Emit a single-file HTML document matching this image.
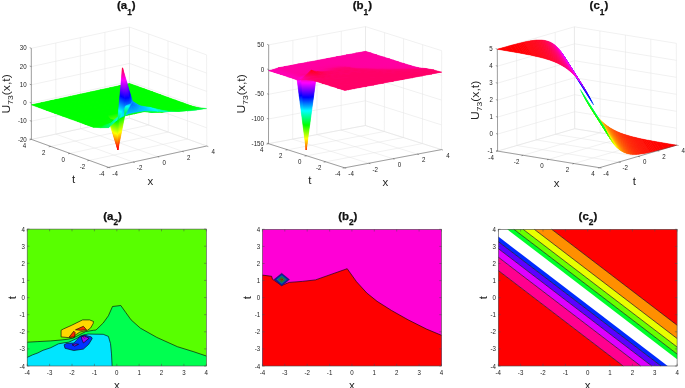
<!DOCTYPE html><html><head><meta charset="utf-8"><style>html,body{margin:0;padding:0;background:#fff;overflow:hidden}svg{display:block;will-change:transform}</style></head><body><svg width="685" height="388" viewBox="0 0 685 388" font-family="Liberation Sans, sans-serif"><rect width="685" height="388" fill="#fff"/><line x1="108.6" y1="167.4" x2="31.4" y2="139.4" stroke="#e3e3e3" stroke-width="0.5"/><line x1="108.6" y1="167.4" x2="206.8" y2="146" stroke="#e3e3e3" stroke-width="0.5"/><line x1="133.1" y1="162" x2="55.9" y2="134.1" stroke="#e3e3e3" stroke-width="0.5"/><line x1="89.3" y1="160.4" x2="187.5" y2="139" stroke="#e3e3e3" stroke-width="0.5"/><line x1="157.7" y1="156.7" x2="80.5" y2="128.7" stroke="#e3e3e3" stroke-width="0.5"/><line x1="70" y1="153.4" x2="168.2" y2="132" stroke="#e3e3e3" stroke-width="0.5"/><line x1="182.2" y1="151.3" x2="105" y2="123.4" stroke="#e3e3e3" stroke-width="0.5"/><line x1="50.7" y1="146.4" x2="148.8" y2="125" stroke="#e3e3e3" stroke-width="0.5"/><line x1="206.8" y1="146" x2="129.5" y2="118.1" stroke="#e3e3e3" stroke-width="0.5"/><line x1="31.4" y1="139.4" x2="129.5" y2="118.1" stroke="#e3e3e3" stroke-width="0.5"/><line x1="31.4" y1="139.4" x2="129.5" y2="118.1" stroke="#e3e3e3" stroke-width="0.5"/><line x1="31.4" y1="121.2" x2="129.5" y2="99.8" stroke="#e3e3e3" stroke-width="0.5"/><line x1="31.3" y1="103" x2="129.5" y2="81.6" stroke="#e3e3e3" stroke-width="0.5"/><line x1="31.3" y1="84.8" x2="129.5" y2="63.4" stroke="#e3e3e3" stroke-width="0.5"/><line x1="31.3" y1="66.6" x2="129.4" y2="45.2" stroke="#e3e3e3" stroke-width="0.5"/><line x1="31.3" y1="48.3" x2="129.4" y2="27" stroke="#e3e3e3" stroke-width="0.5"/><line x1="31.4" y1="139.4" x2="31.3" y2="48.3" stroke="#e3e3e3" stroke-width="0.5"/><line x1="55.9" y1="134.1" x2="55.8" y2="43" stroke="#e3e3e3" stroke-width="0.5"/><line x1="80.5" y1="128.7" x2="80.3" y2="37.7" stroke="#e3e3e3" stroke-width="0.5"/><line x1="105" y1="123.4" x2="104.9" y2="32.3" stroke="#e3e3e3" stroke-width="0.5"/><line x1="129.5" y1="118.1" x2="129.4" y2="27" stroke="#e3e3e3" stroke-width="0.5"/><line x1="129.5" y1="118.1" x2="206.8" y2="146" stroke="#e3e3e3" stroke-width="0.5"/><line x1="129.5" y1="99.8" x2="206.7" y2="127.8" stroke="#e3e3e3" stroke-width="0.5"/><line x1="129.5" y1="81.6" x2="206.7" y2="109.6" stroke="#e3e3e3" stroke-width="0.5"/><line x1="129.5" y1="63.4" x2="206.7" y2="91.4" stroke="#e3e3e3" stroke-width="0.5"/><line x1="129.4" y1="45.2" x2="206.7" y2="73.1" stroke="#e3e3e3" stroke-width="0.5"/><line x1="129.4" y1="27" x2="206.6" y2="54.9" stroke="#e3e3e3" stroke-width="0.5"/><line x1="129.5" y1="118.1" x2="129.4" y2="27" stroke="#e3e3e3" stroke-width="0.5"/><line x1="148.8" y1="125" x2="148.7" y2="34" stroke="#e3e3e3" stroke-width="0.5"/><line x1="168.2" y1="132" x2="168" y2="40.9" stroke="#e3e3e3" stroke-width="0.5"/><line x1="187.5" y1="139" x2="187.3" y2="47.9" stroke="#e3e3e3" stroke-width="0.5"/><line x1="206.8" y1="146" x2="206.6" y2="54.9" stroke="#e3e3e3" stroke-width="0.5"/><line x1="344.6" y1="167.8" x2="268.5" y2="143.7" stroke="#e3e3e3" stroke-width="0.5"/><line x1="344.6" y1="167.8" x2="441.5" y2="149.6" stroke="#e3e3e3" stroke-width="0.5"/><line x1="368.8" y1="163.3" x2="292.7" y2="139.2" stroke="#e3e3e3" stroke-width="0.5"/><line x1="325.6" y1="161.8" x2="422.4" y2="143.6" stroke="#e3e3e3" stroke-width="0.5"/><line x1="393" y1="158.7" x2="316.9" y2="134.6" stroke="#e3e3e3" stroke-width="0.5"/><line x1="306.6" y1="155.8" x2="403.4" y2="137.5" stroke="#e3e3e3" stroke-width="0.5"/><line x1="417.3" y1="154.1" x2="341.1" y2="130.1" stroke="#e3e3e3" stroke-width="0.5"/><line x1="287.5" y1="149.8" x2="384.3" y2="131.5" stroke="#e3e3e3" stroke-width="0.5"/><line x1="441.5" y1="149.6" x2="365.3" y2="125.5" stroke="#e3e3e3" stroke-width="0.5"/><line x1="268.5" y1="143.7" x2="365.3" y2="125.5" stroke="#e3e3e3" stroke-width="0.5"/><line x1="268.5" y1="143.7" x2="365.3" y2="125.5" stroke="#e3e3e3" stroke-width="0.5"/><line x1="268.5" y1="119" x2="365.4" y2="100.8" stroke="#e3e3e3" stroke-width="0.5"/><line x1="268.6" y1="94.3" x2="365.4" y2="76.1" stroke="#e3e3e3" stroke-width="0.5"/><line x1="268.7" y1="69.6" x2="365.5" y2="51.3" stroke="#e3e3e3" stroke-width="0.5"/><line x1="268.7" y1="44.9" x2="365.5" y2="26.6" stroke="#e3e3e3" stroke-width="0.5"/><line x1="268.5" y1="143.7" x2="268.7" y2="44.9" stroke="#e3e3e3" stroke-width="0.5"/><line x1="292.7" y1="139.2" x2="292.9" y2="40.3" stroke="#e3e3e3" stroke-width="0.5"/><line x1="316.9" y1="134.6" x2="317.1" y2="35.7" stroke="#e3e3e3" stroke-width="0.5"/><line x1="341.1" y1="130.1" x2="341.3" y2="31.2" stroke="#e3e3e3" stroke-width="0.5"/><line x1="365.3" y1="125.5" x2="365.5" y2="26.6" stroke="#e3e3e3" stroke-width="0.5"/><line x1="365.3" y1="125.5" x2="441.5" y2="149.6" stroke="#e3e3e3" stroke-width="0.5"/><line x1="365.4" y1="100.8" x2="441.5" y2="124.9" stroke="#e3e3e3" stroke-width="0.5"/><line x1="365.4" y1="76.1" x2="441.6" y2="100.1" stroke="#e3e3e3" stroke-width="0.5"/><line x1="365.5" y1="51.3" x2="441.6" y2="75.4" stroke="#e3e3e3" stroke-width="0.5"/><line x1="365.5" y1="26.6" x2="441.7" y2="50.7" stroke="#e3e3e3" stroke-width="0.5"/><line x1="365.3" y1="125.5" x2="365.5" y2="26.6" stroke="#e3e3e3" stroke-width="0.5"/><line x1="384.3" y1="131.5" x2="384.6" y2="32.6" stroke="#e3e3e3" stroke-width="0.5"/><line x1="403.4" y1="137.5" x2="403.6" y2="38.7" stroke="#e3e3e3" stroke-width="0.5"/><line x1="422.4" y1="143.6" x2="422.7" y2="44.7" stroke="#e3e3e3" stroke-width="0.5"/><line x1="441.5" y1="149.6" x2="441.7" y2="50.7" stroke="#e3e3e3" stroke-width="0.5"/><line x1="497.6" y1="151.1" x2="574.7" y2="128.7" stroke="#e3e3e3" stroke-width="0.5"/><line x1="497.6" y1="151.1" x2="599.5" y2="167.7" stroke="#e3e3e3" stroke-width="0.5"/><line x1="523.1" y1="155.3" x2="600.2" y2="132.8" stroke="#e3e3e3" stroke-width="0.5"/><line x1="516.9" y1="145.5" x2="618.7" y2="162.1" stroke="#e3e3e3" stroke-width="0.5"/><line x1="548.5" y1="159.4" x2="625.6" y2="136.9" stroke="#e3e3e3" stroke-width="0.5"/><line x1="536.1" y1="139.9" x2="638" y2="156.4" stroke="#e3e3e3" stroke-width="0.5"/><line x1="574" y1="163.5" x2="651.1" y2="141.1" stroke="#e3e3e3" stroke-width="0.5"/><line x1="555.4" y1="134.3" x2="657.3" y2="150.8" stroke="#e3e3e3" stroke-width="0.5"/><line x1="599.5" y1="167.7" x2="676.6" y2="145.2" stroke="#e3e3e3" stroke-width="0.5"/><line x1="574.7" y1="128.7" x2="676.6" y2="145.2" stroke="#e3e3e3" stroke-width="0.5"/><line x1="497.6" y1="151.1" x2="574.7" y2="128.7" stroke="#e3e3e3" stroke-width="0.5"/><line x1="497.6" y1="134.1" x2="574.7" y2="111.7" stroke="#e3e3e3" stroke-width="0.5"/><line x1="497.5" y1="117.1" x2="574.6" y2="94.7" stroke="#e3e3e3" stroke-width="0.5"/><line x1="497.5" y1="100.2" x2="574.6" y2="77.7" stroke="#e3e3e3" stroke-width="0.5"/><line x1="497.4" y1="83.2" x2="574.5" y2="60.7" stroke="#e3e3e3" stroke-width="0.5"/><line x1="497.4" y1="66.2" x2="574.5" y2="43.8" stroke="#e3e3e3" stroke-width="0.5"/><line x1="497.3" y1="49.2" x2="574.4" y2="26.8" stroke="#e3e3e3" stroke-width="0.5"/><line x1="497.6" y1="151.1" x2="497.3" y2="49.2" stroke="#e3e3e3" stroke-width="0.5"/><line x1="516.9" y1="145.5" x2="516.6" y2="43.6" stroke="#e3e3e3" stroke-width="0.5"/><line x1="536.1" y1="139.9" x2="535.9" y2="38" stroke="#e3e3e3" stroke-width="0.5"/><line x1="555.4" y1="134.3" x2="555.2" y2="32.4" stroke="#e3e3e3" stroke-width="0.5"/><line x1="574.7" y1="128.7" x2="574.4" y2="26.8" stroke="#e3e3e3" stroke-width="0.5"/><line x1="574.7" y1="128.7" x2="676.6" y2="145.2" stroke="#e3e3e3" stroke-width="0.5"/><line x1="574.7" y1="111.7" x2="676.5" y2="128.2" stroke="#e3e3e3" stroke-width="0.5"/><line x1="574.6" y1="94.7" x2="676.5" y2="111.3" stroke="#e3e3e3" stroke-width="0.5"/><line x1="574.6" y1="77.7" x2="676.4" y2="94.3" stroke="#e3e3e3" stroke-width="0.5"/><line x1="574.5" y1="60.7" x2="676.4" y2="77.3" stroke="#e3e3e3" stroke-width="0.5"/><line x1="574.5" y1="43.8" x2="676.3" y2="60.3" stroke="#e3e3e3" stroke-width="0.5"/><line x1="574.4" y1="26.8" x2="676.3" y2="43.3" stroke="#e3e3e3" stroke-width="0.5"/><line x1="574.7" y1="128.7" x2="574.4" y2="26.8" stroke="#e3e3e3" stroke-width="0.5"/><line x1="600.2" y1="132.8" x2="599.9" y2="30.9" stroke="#e3e3e3" stroke-width="0.5"/><line x1="625.6" y1="136.9" x2="625.4" y2="35" stroke="#e3e3e3" stroke-width="0.5"/><line x1="651.1" y1="141.1" x2="650.8" y2="39.2" stroke="#e3e3e3" stroke-width="0.5"/><line x1="676.6" y1="145.2" x2="676.3" y2="43.3" stroke="#e3e3e3" stroke-width="0.5"/><path fill="#00ff00" d="M108.6 127.7L118.4 118.8L128.2 113.9L133.1 112.8L138 111.8L147.8 110.6L157.6 111.1L167.4 111.7L177.3 111.8L187.1 111.1L196.9 109.9L206.7 108.5L199 107.7L191.3 105.8L183.5 103L175.8 100.2L168.1 97.4L160.4 94.6L152.7 91.8L144.9 89L137.2 86.2L129.5 83.4L119.7 85.6L109.9 87.7L100.1 89.9L90.2 92L80.4 94.1L70.6 96.3L60.8 98.4L55.9 99.5L51 100.5L41.2 102.7L31.4 104.8L39.1 107.6L46.8 110.4L54.5 113.2L62.2 116L70 118.8L77.7 121.6L85.4 124.4L93.1 127.2L100.8 127.8z"/><defs><linearGradient id="ga0" gradientUnits="userSpaceOnUse" x1="117.86" y1="149.91" x2="110.16" y2="114.51"><stop offset="0" stop-color="#ff0000"/><stop offset="0.06" stop-color="#ff0000"/><stop offset="0.55" stop-color="#ffff00"/><stop offset="0.56" stop-color="#feff00"/><stop offset="1" stop-color="#01ff00"/></linearGradient><linearGradient id="ga1" gradientUnits="userSpaceOnUse" x1="117.86" y1="149.91" x2="129.56" y2="117.6"><stop offset="0" stop-color="#ff0000"/><stop offset="0.06" stop-color="#ff0000"/><stop offset="0.55" stop-color="#ffff00"/><stop offset="0.56" stop-color="#feff00"/><stop offset="1" stop-color="#01ff00"/></linearGradient><linearGradient id="ga2" gradientUnits="userSpaceOnUse" x1="100.42" y1="125.97" x2="109.94" y2="119.03"><stop offset="0" stop-color="#ff0000"/><stop offset="0.06" stop-color="#ff0000"/><stop offset="0.55" stop-color="#ffff00"/><stop offset="0.56" stop-color="#feff00"/><stop offset="1" stop-color="#01ff00"/></linearGradient><linearGradient id="ga3" gradientUnits="userSpaceOnUse" x1="108.72" y1="146.69" x2="117.66" y2="121.28"><stop offset="0" stop-color="#ff0000"/><stop offset="0.05" stop-color="#ff0000"/><stop offset="0.55" stop-color="#ffff00"/><stop offset="0.55" stop-color="#feff00"/><stop offset="0.98" stop-color="#01ff00"/><stop offset="0.98" stop-color="#00ff00"/><stop offset="1" stop-color="#00ff0c"/></linearGradient><linearGradient id="ga4" gradientUnits="userSpaceOnUse" x1="188.39" y1="106.43" x2="189.17" y2="110.01"><stop offset="0" stop-color="#01ff00"/><stop offset="0.03" stop-color="#00ff00"/><stop offset="1" stop-color="#00ff11"/></linearGradient><linearGradient id="ga5" gradientUnits="userSpaceOnUse" x1="188.13" y1="106.82" x2="189.43" y2="110.8"><stop offset="0" stop-color="#01ff00"/><stop offset="0.02" stop-color="#00ff00"/><stop offset="1" stop-color="#00ff15"/></linearGradient><linearGradient id="ga6" gradientUnits="userSpaceOnUse" x1="178.73" y1="108.53" x2="179.36" y2="111.42"><stop offset="0" stop-color="#01ff00"/><stop offset="0.01" stop-color="#00ff00"/><stop offset="1" stop-color="#00ff22"/></linearGradient><linearGradient id="ga7" gradientUnits="userSpaceOnUse" x1="179.49" y1="107.87" x2="179.36" y2="111.42"><stop offset="0" stop-color="#01ff00"/><stop offset="0.01" stop-color="#00ff00"/><stop offset="1" stop-color="#00ff22"/></linearGradient><linearGradient id="ga8" gradientUnits="userSpaceOnUse" x1="151.45" y1="110" x2="152.01" y2="112.53"><stop offset="0" stop-color="#01ff00"/><stop offset="0.01" stop-color="#00ff00"/><stop offset="1" stop-color="#00ff2a"/></linearGradient><linearGradient id="ga9" gradientUnits="userSpaceOnUse" x1="153.24" y1="109.11" x2="152.01" y2="112.53"><stop offset="0" stop-color="#01ff00"/><stop offset="0.01" stop-color="#00ff00"/><stop offset="1" stop-color="#00ff2a"/></linearGradient><linearGradient id="ga10" gradientUnits="userSpaceOnUse" x1="169.37" y1="110.57" x2="169.54" y2="111.37"><stop offset="0" stop-color="#01ff00"/><stop offset="0.01" stop-color="#00ff00"/><stop offset="1" stop-color="#00ff55"/></linearGradient><linearGradient id="ga11" gradientUnits="userSpaceOnUse" x1="196.47" y1="108.2" x2="196.89" y2="109.89"><stop offset="0" stop-color="#00ff11"/><stop offset="1" stop-color="#00ff55"/></linearGradient><linearGradient id="ga12" gradientUnits="userSpaceOnUse" x1="111.93" y1="118.6" x2="112.75" y2="122.35"><stop offset="0" stop-color="#01ff00"/><stop offset="0.04" stop-color="#00ff00"/><stop offset="1" stop-color="#00ff0c"/></linearGradient><linearGradient id="ga13" gradientUnits="userSpaceOnUse" x1="169.68" y1="109.89" x2="169.54" y2="111.37"><stop offset="0" stop-color="#01ff00"/><stop offset="0.01" stop-color="#00ff00"/><stop offset="1" stop-color="#00ff55"/></linearGradient><linearGradient id="ga14" gradientUnits="userSpaceOnUse" x1="111.93" y1="118.6" x2="112.75" y2="122.35"><stop offset="0" stop-color="#01ff00"/><stop offset="0.04" stop-color="#00ff00"/><stop offset="1" stop-color="#00ff0c"/></linearGradient><linearGradient id="ga15" gradientUnits="userSpaceOnUse" x1="102.94" y1="125.03" x2="110.29" y2="128.15"><stop offset="0" stop-color="#01ff00"/><stop offset="0.04" stop-color="#00ff00"/><stop offset="1" stop-color="#00ff0c"/></linearGradient><linearGradient id="ga16" gradientUnits="userSpaceOnUse" x1="196.71" y1="107.89" x2="196.89" y2="109.89"><stop offset="0" stop-color="#00ff15"/><stop offset="1" stop-color="#00ff55"/></linearGradient><linearGradient id="ga17" gradientUnits="userSpaceOnUse" x1="186.97" y1="110.29" x2="187.07" y2="111.11"><stop offset="0" stop-color="#00ff11"/><stop offset="1" stop-color="#00ff6a"/></linearGradient><linearGradient id="ga18" gradientUnits="userSpaceOnUse" x1="142.58" y1="111.93" x2="142.18" y2="110.11"><stop offset="0" stop-color="#01ff00"/><stop offset="0" stop-color="#00ff00"/><stop offset="1" stop-color="#00ff95"/></linearGradient><linearGradient id="ga19" gradientUnits="userSpaceOnUse" x1="142.01" y1="111.18" x2="142.18" y2="110.11"><stop offset="0" stop-color="#01ff00"/><stop offset="0" stop-color="#00ff00"/><stop offset="1" stop-color="#00ff95"/></linearGradient><linearGradient id="ga20" gradientUnits="userSpaceOnUse" x1="186.98" y1="110.23" x2="187.07" y2="111.11"><stop offset="0" stop-color="#00ff11"/><stop offset="1" stop-color="#00ff6a"/></linearGradient><linearGradient id="ga21" gradientUnits="userSpaceOnUse" x1="100.36" y1="125.59" x2="100.84" y2="127.78"><stop offset="0" stop-color="#01ff00"/><stop offset="0.01" stop-color="#00ff00"/><stop offset="1" stop-color="#00ff33"/></linearGradient><linearGradient id="ga22" gradientUnits="userSpaceOnUse" x1="159.97" y1="112.4" x2="159.72" y2="109.86"><stop offset="0" stop-color="#01ff00"/><stop offset="0" stop-color="#00ff00"/><stop offset="1" stop-color="#00ffaa"/></linearGradient><linearGradient id="ga23" gradientUnits="userSpaceOnUse" x1="110.55" y1="122.92" x2="110.65" y2="123.28"><stop offset="0" stop-color="#01ff00"/><stop offset="0" stop-color="#00ff00"/><stop offset="1" stop-color="#00ff6a"/></linearGradient><linearGradient id="ga24" gradientUnits="userSpaceOnUse" x1="159.63" y1="112.13" x2="159.72" y2="109.86"><stop offset="0" stop-color="#01ff00"/><stop offset="0" stop-color="#00ff00"/><stop offset="1" stop-color="#00ffaa"/></linearGradient><linearGradient id="ga25" gradientUnits="userSpaceOnUse" x1="177.27" y1="111.36" x2="177.26" y2="111.79"><stop offset="0" stop-color="#00ff22"/><stop offset="1" stop-color="#00ff8c"/></linearGradient><linearGradient id="ga26" gradientUnits="userSpaceOnUse" x1="177.24" y1="111.54" x2="177.26" y2="111.79"><stop offset="0" stop-color="#00ff22"/><stop offset="1" stop-color="#00ff8c"/></linearGradient><linearGradient id="ga27" gradientUnits="userSpaceOnUse" x1="100.19" y1="126.73" x2="101.54" y2="128.91"><stop offset="0" stop-color="#01ff00"/><stop offset="0" stop-color="#00ff00"/><stop offset="1" stop-color="#00ff6a"/></linearGradient><linearGradient id="ga28" gradientUnits="userSpaceOnUse" x1="121.68" y1="120.41" x2="120.46" y2="114.76"><stop offset="0" stop-color="#00ff0c"/><stop offset="1" stop-color="#00ffff"/></linearGradient><linearGradient id="ga29" gradientUnits="userSpaceOnUse" x1="135.02" y1="113.57" x2="132.35" y2="101.32"><stop offset="0" stop-color="#01ff00"/><stop offset="0" stop-color="#00ff00"/><stop offset="0.63" stop-color="#00ffff"/><stop offset="1" stop-color="#008fff"/></linearGradient><linearGradient id="ga30" gradientUnits="userSpaceOnUse" x1="167.45" y1="111.31" x2="167.44" y2="111.74"><stop offset="0" stop-color="#00ff55"/><stop offset="1" stop-color="#00ffbf"/></linearGradient><linearGradient id="ga31" gradientUnits="userSpaceOnUse" x1="103.93" y1="123.94" x2="108.56" y2="127.66"><stop offset="0" stop-color="#00ff33"/><stop offset="1" stop-color="#00ff77"/></linearGradient><linearGradient id="ga32" gradientUnits="userSpaceOnUse" x1="167.62" y1="110.94" x2="167.44" y2="111.74"><stop offset="0" stop-color="#00ff55"/><stop offset="1" stop-color="#00ffbf"/></linearGradient><linearGradient id="ga33" gradientUnits="userSpaceOnUse" x1="149.84" y1="112.5" x2="149.9" y2="107.44"><stop offset="0" stop-color="#00ff2a"/><stop offset="0.91" stop-color="#00ffff"/><stop offset="1" stop-color="#00efff"/></linearGradient><linearGradient id="ga34" gradientUnits="userSpaceOnUse" x1="110.97" y1="123.7" x2="110.14" y2="122.6"><stop offset="0" stop-color="#00ff0c"/><stop offset="1" stop-color="#00ffff"/></linearGradient><linearGradient id="ga35" gradientUnits="userSpaceOnUse" x1="155.56" y1="129.75" x2="122.49" y2="67.93"><stop offset="0" stop-color="#ff0000"/><stop offset="0.02" stop-color="#ff0000"/><stop offset="0.21" stop-color="#ffff00"/><stop offset="0.21" stop-color="#feff00"/><stop offset="0.38" stop-color="#01ff00"/><stop offset="0.38" stop-color="#00ff00"/><stop offset="0.51" stop-color="#00ffff"/><stop offset="0.68" stop-color="#0000ff"/><stop offset="0.68" stop-color="#0100ff"/><stop offset="0.83" stop-color="#cc00ff"/><stop offset="0.87" stop-color="#ff00ff"/><stop offset="1" stop-color="#ff003d"/></linearGradient><linearGradient id="ga36" gradientUnits="userSpaceOnUse" x1="149.84" y1="112.5" x2="149.9" y2="107.44"><stop offset="0" stop-color="#00ff2a"/><stop offset="0.91" stop-color="#00ffff"/><stop offset="1" stop-color="#00efff"/></linearGradient><linearGradient id="ga37" gradientUnits="userSpaceOnUse" x1="130.54" y1="129.15" x2="97.45" y2="108.95"><stop offset="0" stop-color="#ff0000"/><stop offset="0.02" stop-color="#ff0000"/><stop offset="0.21" stop-color="#ffff00"/><stop offset="0.21" stop-color="#feff00"/><stop offset="0.38" stop-color="#01ff00"/><stop offset="0.38" stop-color="#00ff00"/><stop offset="0.51" stop-color="#00ffff"/><stop offset="0.68" stop-color="#0000ff"/><stop offset="0.68" stop-color="#0100ff"/><stop offset="0.83" stop-color="#cc00ff"/><stop offset="0.87" stop-color="#ff00ff"/><stop offset="1" stop-color="#ff003d"/></linearGradient><linearGradient id="ga38" gradientUnits="userSpaceOnUse" x1="130.98" y1="113.29" x2="132.35" y2="101.32"><stop offset="0" stop-color="#01ff00"/><stop offset="0" stop-color="#00ff00"/><stop offset="0.63" stop-color="#00ffff"/><stop offset="1" stop-color="#008fff"/></linearGradient><linearGradient id="ga39" gradientUnits="userSpaceOnUse" x1="157.93" y1="109.52" x2="157.62" y2="111.15"><stop offset="0" stop-color="#00ffaa"/><stop offset="1" stop-color="#00ffff"/></linearGradient><linearGradient id="ga40" gradientUnits="userSpaceOnUse" x1="108.26" y1="127.49" x2="112.18" y2="129.71"><stop offset="0" stop-color="#00ff6a"/><stop offset="0.88" stop-color="#00ffff"/><stop offset="1" stop-color="#00efff"/></linearGradient><linearGradient id="ga41" gradientUnits="userSpaceOnUse" x1="158.67" y1="109.27" x2="157.36" y2="111.62"><stop offset="0" stop-color="#00ffaa"/><stop offset="0.8" stop-color="#00ffff"/><stop offset="1" stop-color="#00efff"/></linearGradient><linearGradient id="ga42" gradientUnits="userSpaceOnUse" x1="115.1" y1="116.61" x2="118.36" y2="118.78"><stop offset="0" stop-color="#00ff6a"/><stop offset="0.88" stop-color="#00ffff"/><stop offset="1" stop-color="#00efff"/></linearGradient><linearGradient id="ga43" gradientUnits="userSpaceOnUse" x1="121.48" y1="115.43" x2="119.65" y2="114.24"><stop offset="0" stop-color="#00ff0c"/><stop offset="0.56" stop-color="#00ffff"/><stop offset="1" stop-color="#006fff"/></linearGradient><linearGradient id="ga44" gradientUnits="userSpaceOnUse" x1="140.16" y1="110.15" x2="140.08" y2="105.93"><stop offset="0" stop-color="#00ff95"/><stop offset="0.5" stop-color="#00ffff"/><stop offset="1" stop-color="#00afff"/></linearGradient><linearGradient id="ga45" gradientUnits="userSpaceOnUse" x1="151.27" y1="106.15" x2="147.8" y2="110.55"><stop offset="0" stop-color="#00ffff"/><stop offset="1" stop-color="#00cfff"/></linearGradient><linearGradient id="ga46" gradientUnits="userSpaceOnUse" x1="138.82" y1="108.37" x2="140.33" y2="105.45"><stop offset="0" stop-color="#00ff95"/><stop offset="0.42" stop-color="#00ffff"/><stop offset="1" stop-color="#008fff"/></linearGradient><linearGradient id="ga47" gradientUnits="userSpaceOnUse" x1="117.45" y1="117.92" x2="121.08" y2="121.37"><stop offset="0" stop-color="#00ffff"/><stop offset="1" stop-color="#00bfff"/></linearGradient><linearGradient id="ga48" gradientUnits="userSpaceOnUse" x1="150.65" y1="108.48" x2="144.95" y2="112.63"><stop offset="0" stop-color="#00efff"/><stop offset="1" stop-color="#00afff"/></linearGradient><linearGradient id="ga49" gradientUnits="userSpaceOnUse" x1="140.01" y1="115.18" x2="135.97" y2="108.38"><stop offset="0" stop-color="#00cfff"/><stop offset="1" stop-color="#00afff"/></linearGradient><linearGradient id="ga50" gradientUnits="userSpaceOnUse" x1="125.81" y1="117.92" x2="131.13" y2="108.91"><stop offset="0" stop-color="#00ffff"/><stop offset="1" stop-color="#006fff"/></linearGradient><linearGradient id="ga51" gradientUnits="userSpaceOnUse" x1="128.17" y1="113.91" x2="126.29" y2="105.29"><stop offset="0" stop-color="#00bfff"/><stop offset="1" stop-color="#006fff"/></linearGradient><linearGradient id="ga52" gradientUnits="userSpaceOnUse" x1="137.99" y1="111.78" x2="129.1" y2="105.05"><stop offset="0" stop-color="#00bfff"/><stop offset="1" stop-color="#005fff"/></linearGradient><linearGradient id="ga53" gradientUnits="userSpaceOnUse" x1="133.08" y1="112.85" x2="131.01" y2="103.35"><stop offset="0" stop-color="#00bfff"/><stop offset="1" stop-color="#005fff"/></linearGradient><linearGradient id="ga54" gradientUnits="userSpaceOnUse" x1="133.77" y1="99.87" x2="130.26" y2="103.52"><stop offset="0" stop-color="#00afff"/><stop offset="1" stop-color="#005fff"/></linearGradient><linearGradient id="ga55" gradientUnits="userSpaceOnUse" x1="133.08" y1="112.85" x2="132.33" y2="103.35"><stop offset="0" stop-color="#00bfff"/><stop offset="1" stop-color="#005fff"/></linearGradient><linearGradient id="ga56" gradientUnits="userSpaceOnUse" x1="115.94" y1="114.61" x2="122.49" y2="67.93"><stop offset="0" stop-color="#01ff00"/><stop offset="0" stop-color="#00ff00"/><stop offset="0.21" stop-color="#00ffff"/><stop offset="0.48" stop-color="#0000ff"/><stop offset="0.48" stop-color="#0100ff"/><stop offset="0.72" stop-color="#cc00ff"/><stop offset="0.78" stop-color="#ff00ff"/><stop offset="1" stop-color="#ff003d"/></linearGradient><linearGradient id="ga57" gradientUnits="userSpaceOnUse" x1="117.12" y1="121" x2="140.28" y2="77.38"><stop offset="0" stop-color="#00ff0c"/><stop offset="0.2" stop-color="#00ffff"/><stop offset="0.48" stop-color="#0000ff"/><stop offset="0.48" stop-color="#0100ff"/><stop offset="0.72" stop-color="#cc00ff"/><stop offset="0.78" stop-color="#ff00ff"/><stop offset="1" stop-color="#ff003d"/></linearGradient><linearGradient id="ga58" gradientUnits="userSpaceOnUse" x1="131.63" y1="103.9" x2="113.8" y2="98.9"><stop offset="0" stop-color="#008fff"/><stop offset="0.23" stop-color="#0000ff"/><stop offset="0.23" stop-color="#0100ff"/><stop offset="0.59" stop-color="#cc00ff"/><stop offset="0.68" stop-color="#ff00ff"/><stop offset="1" stop-color="#ff003d"/></linearGradient><linearGradient id="ga59" gradientUnits="userSpaceOnUse" x1="125.35" y1="105.5" x2="118.24" y2="68.75"><stop offset="0" stop-color="#006fff"/><stop offset="0.19" stop-color="#0000ff"/><stop offset="0.19" stop-color="#0100ff"/><stop offset="0.57" stop-color="#cc00ff"/><stop offset="0.66" stop-color="#ff00ff"/><stop offset="1" stop-color="#ff003d"/></linearGradient></defs><path fill="url(#ga0)" stroke="url(#ga0)" stroke-width="0.4" stroke-linejoin="round" d="M117.86 149.91L116.94 113.04L107.12 115.17z"/><path fill="url(#ga1)" stroke="url(#ga1)" stroke-width="0.4" stroke-linejoin="round" d="M117.86 149.91L124.66 115.83L116.94 113.04z"/><path fill="url(#ga2)" stroke="url(#ga2)" stroke-width="0.4" stroke-linejoin="round" d="M109.94 119.03L117.86 149.91L107.12 115.17z"/><path fill="url(#ga3)" stroke="url(#ga3)" stroke-width="0.4" stroke-linejoin="round" d="M117.66 121.28L117.86 149.91L109.94 119.03z"/><path fill="#01ff00" stroke="#01ff00" stroke-width="0.5" stroke-linejoin="round" d="M127.4 88.38L129.5 83.45L119.68 85.58zM127.4 88.38L137.22 86.24L129.5 83.45zM117.59 90.51L119.68 85.58L109.87 87.72zM117.59 90.51L127.4 88.38L119.68 85.58zM135.12 91.17L137.22 86.24L127.4 88.38zM135.12 91.17L144.94 89.04L137.22 86.24zM107.77 92.65L109.87 87.72L100.05 89.86zM107.77 92.65L117.59 90.51L109.87 87.72zM125.31 93.31L127.4 88.38L117.59 90.51zM125.31 93.31L135.12 91.17L127.4 88.38zM142.84 93.97L144.94 89.04L135.12 91.17zM142.84 93.97L152.66 91.83L144.94 89.04zM97.96 94.79L100.05 89.86L90.24 91.99zM97.96 94.79L107.77 92.65L100.05 89.86zM115.49 95.45L117.59 90.51L107.77 92.65zM115.49 95.45L125.31 93.31L117.59 90.51zM133.03 96.1L135.12 91.17L125.31 93.31zM133.03 96.1L142.84 93.97L135.12 91.17zM150.57 96.76L152.66 91.83L142.84 93.97zM150.57 96.76L160.38 94.63L152.66 91.83zM88.14 96.92L90.24 91.99L80.42 94.13zM88.14 96.92L97.96 94.79L90.24 91.99zM105.68 97.58L107.77 92.65L97.96 94.79zM105.68 97.58L115.49 95.45L107.77 92.65zM123.22 98.24L125.31 93.31L115.49 95.45zM123.22 98.24L133.03 96.1L125.31 93.31zM140.75 98.9L142.84 93.97L133.03 96.1zM140.75 98.9L150.57 96.76L142.84 93.97zM78.33 99.06L80.42 94.13L70.61 96.27zM158.29 99.56L160.38 94.63L150.57 96.76zM78.33 99.06L88.14 96.92L80.42 94.13zM158.29 99.56L168.1 97.42L160.38 94.63zM95.87 99.72L97.96 94.79L88.14 96.92zM95.87 99.72L105.68 97.58L97.96 94.79zM113.4 100.38L115.49 95.45L105.68 97.58zM113.4 100.38L123.22 98.24L115.49 95.45zM130.94 101.04L133.03 96.1L123.22 98.24zM130.94 101.04L140.75 98.9L133.03 96.1zM68.52 101.2L70.61 96.27L60.79 98.4zM148.47 101.69L150.57 96.76L140.75 98.9zM68.52 101.2L78.33 99.06L70.61 96.27zM148.47 101.69L158.29 99.56L150.57 96.76zM86.05 101.86L88.14 96.92L78.33 99.06zM166.01 102.35L168.1 97.42L158.29 99.56zM86.05 101.86L95.87 99.72L88.14 96.92zM166.01 102.35L175.82 100.21L168.1 97.42zM103.59 102.51L105.68 97.58L95.87 99.72zM103.59 102.51L113.4 100.38L105.68 97.58zM63.61 102.27L60.79 98.4L55.89 99.47zM121.12 103.17L123.22 98.24L113.4 100.38zM121.12 103.17L130.94 101.04L123.22 98.24zM63.61 102.27L68.52 101.2L60.79 98.4zM138.66 103.83L140.75 98.9L130.94 101.04zM58.7 103.33L55.89 99.47L50.98 100.54zM138.66 103.83L148.47 101.69L140.75 98.9zM76.24 103.99L78.33 99.06L68.52 101.2zM156.19 104.49L158.29 99.56L148.47 101.69zM76.24 103.99L86.05 101.86L78.33 99.06zM58.7 103.33L63.61 102.27L55.89 99.47zM156.19 104.49L166.01 102.35L158.29 99.56zM93.77 104.65L95.87 99.72L86.05 101.86zM173.73 105.15L175.82 100.21L166.01 102.35zM93.77 104.65L103.59 102.51L95.87 99.72zM173.73 105.15L183.54 103.01L175.82 100.21zM111.31 105.31L113.4 100.38L103.59 102.51zM111.31 105.31L121.12 103.17L113.4 100.38zM71.33 105.06L68.52 101.2L63.61 102.27zM48.89 105.47L50.98 100.54L41.16 102.68zM128.84 105.97L130.94 101.04L121.12 103.17zM48.89 105.47L58.7 103.33L50.98 100.54zM128.84 105.97L138.66 103.83L130.94 101.04zM71.33 105.06L76.24 103.99L68.52 101.2zM146.38 106.62L148.47 101.69L138.66 103.83zM66.42 106.13L63.61 102.27L58.7 103.33zM146.38 106.62L156.19 104.49L148.47 101.69zM83.96 106.79L86.05 101.86L76.24 103.99zM163.92 107.28L166.01 102.35L156.19 104.49zM83.96 106.79L93.77 104.65L86.05 101.86zM66.42 106.13L71.33 105.06L63.61 102.27zM163.92 107.28L173.73 105.15L166.01 102.35zM101.49 107.45L103.59 102.51L93.77 104.65zM181.45 107.94L183.54 103.01L173.73 105.15zM101.49 107.45L111.31 105.31L103.59 102.51zM181.45 107.94L191.27 105.8L183.54 103.01zM39.07 107.61L41.16 102.68L31.35 104.81zM119.03 108.1L121.12 103.17L111.31 105.31zM39.07 107.61L48.89 105.47L41.16 102.68zM119.03 108.1L128.84 105.97L121.12 103.17zM79.05 107.86L76.24 103.99L71.33 105.06zM56.61 108.27L58.7 103.33L48.89 105.47zM136.57 108.76L138.66 103.83L128.84 105.97zM56.61 108.27L66.42 106.13L58.7 103.33zM136.57 108.76L146.38 106.62L138.66 103.83zM79.05 107.86L83.96 106.79L76.24 103.99zM154.1 109.42L156.19 104.49L146.38 106.62zM74.14 108.92L71.33 105.06L66.42 106.13zM154.1 109.42L163.92 107.28L156.19 104.49zM91.68 109.58L93.77 104.65L83.96 106.79zM171.64 110.08L173.73 105.15L163.92 107.28zM91.68 109.58L101.49 107.45L93.77 104.65zM74.14 108.92L79.05 107.86L71.33 105.06zM171.64 110.08L181.45 107.94L173.73 105.15zM109.22 110.24L111.31 105.31L101.49 107.45zM109.22 110.24L119.03 108.1L111.31 105.31zM46.79 110.4L48.89 105.47L39.07 107.61zM126.75 110.9L128.84 105.97L119.03 108.1zM46.79 110.4L56.61 108.27L48.89 105.47zM126.75 110.9L136.57 108.76L128.84 105.97zM86.77 110.65L83.96 106.79L79.05 107.86zM64.33 111.06L66.42 106.13L56.61 108.27zM144.29 111.56L146.38 106.62L136.57 108.76zM64.33 111.06L74.14 108.92L66.42 106.13zM144.29 111.56L154.1 109.42L146.38 106.62zM86.77 110.65L91.68 109.58L83.96 106.79z"/><path fill="url(#ga4)" stroke="url(#ga4)" stroke-width="0.4" stroke-linejoin="round" d="M189.17 110.01L191.27 105.8L181.45 107.94z"/><path fill="#01ff00" stroke="#01ff00" stroke-width="0.5" stroke-linejoin="round" d="M161.82 112.21L163.92 107.28L154.1 109.42zM81.86 111.72L79.05 107.86L74.14 108.92zM161.82 112.21L171.64 110.08L163.92 107.28zM99.4 112.38L101.49 107.45L91.68 109.58zM99.4 112.38L109.22 110.24L101.49 107.45zM81.86 111.72L86.77 110.65L79.05 107.86zM116.94 113.04L119.03 108.1L109.22 110.24zM116.94 113.04L126.75 110.9L119.03 108.1zM54.51 113.2L56.61 108.27L46.79 110.4zM134.47 113.69L136.57 108.76L126.75 110.9zM54.51 113.2L64.33 111.06L56.61 108.27zM134.47 113.69L144.29 111.56L136.57 108.76z"/><path fill="url(#ga5)" stroke="url(#ga5)" stroke-width="0.4" stroke-linejoin="round" d="M189.17 110.01L198.99 107.69L191.27 105.8z"/><path fill="#01ff00" stroke="#01ff00" stroke-width="0.5" stroke-linejoin="round" d="M94.49 113.45L91.68 109.58L86.77 110.65zM72.05 113.86L74.14 108.92L64.33 111.06zM72.05 113.86L81.86 111.72L74.14 108.92zM94.49 113.45L99.4 112.38L91.68 109.58zM89.59 114.51L86.77 110.65L81.86 111.72zM107.12 115.17L109.22 110.24L99.4 112.38zM107.12 115.17L116.94 113.04L109.22 110.24z"/><path fill="url(#ga6)" stroke="url(#ga6)" stroke-width="0.4" stroke-linejoin="round" d="M179.36 111.42L181.45 107.94L171.64 110.08z"/><path fill="#01ff00" stroke="#01ff00" stroke-width="0.5" stroke-linejoin="round" d="M89.59 114.51L94.49 113.45L86.77 110.65zM124.66 115.83L126.75 110.9L116.94 113.04zM124.66 115.83L134.47 113.69L126.75 110.9zM62.24 115.99L64.33 111.06L54.51 113.2zM62.24 115.99L72.05 113.86L64.33 111.06zM102.21 116.24L99.4 112.38L94.49 113.45zM79.77 116.65L81.86 111.72L72.05 113.86zM79.77 116.65L89.59 114.51L81.86 111.72z"/><path fill="url(#ga7)" stroke="url(#ga7)" stroke-width="0.4" stroke-linejoin="round" d="M179.36 111.42L189.17 110.01L181.45 107.94z"/><path fill="#01ff00" stroke="#01ff00" stroke-width="0.5" stroke-linejoin="round" d="M102.21 116.24L107.12 115.17L99.4 112.38zM97.31 117.31L94.49 113.45L89.59 114.51z"/><path fill="url(#ga8)" stroke="url(#ga8)" stroke-width="0.4" stroke-linejoin="round" d="M152.01 112.53L154.1 109.42L144.29 111.56z"/><path fill="url(#ga9)" stroke="url(#ga9)" stroke-width="0.4" stroke-linejoin="round" d="M152.01 112.53L161.82 112.21L154.1 109.42z"/><path fill="#01ff00" stroke="#01ff00" stroke-width="0.5" stroke-linejoin="round" d="M97.31 117.31L102.21 116.24L94.49 113.45zM69.96 118.79L72.05 113.86L62.24 115.99zM69.96 118.79L79.77 116.65L72.05 113.86zM109.94 119.03L107.12 115.17L102.21 116.24zM87.49 119.45L89.59 114.51L79.77 116.65zM87.49 119.45L97.31 117.31L89.59 114.51zM105.03 120.1L102.21 116.24L97.31 117.31zM105.03 120.1L109.94 119.03L102.21 116.24zM77.68 121.58L79.77 116.65L69.96 118.79z"/><path fill="url(#ga10)" stroke="url(#ga10)" stroke-width="0.4" stroke-linejoin="round" d="M169.54 111.37L171.64 110.08L161.82 112.21z"/><path fill="#01ff00" stroke="#01ff00" stroke-width="0.5" stroke-linejoin="round" d="M77.68 121.58L87.49 119.45L79.77 116.65zM95.21 122.24L97.31 117.31L87.49 119.45zM95.21 122.24L105.03 120.1L97.31 117.31z"/><path fill="url(#ga11)" stroke="url(#ga11)" stroke-width="0.4" stroke-linejoin="round" d="M196.89 109.89L198.99 107.69L189.17 110.01z"/><path fill="url(#ga12)" stroke="url(#ga12)" stroke-width="0.4" stroke-linejoin="round" d="M112.75 122.35L109.94 119.03L105.03 120.1z"/><path fill="#01ff00" stroke="#01ff00" stroke-width="0.5" stroke-linejoin="round" d="M85.4 124.38L87.49 119.45L77.68 121.58zM85.4 124.38L95.21 122.24L87.49 119.45z"/><path fill="url(#ga13)" stroke="url(#ga13)" stroke-width="0.4" stroke-linejoin="round" d="M169.54 111.37L179.36 111.42L171.64 110.08z"/><path fill="#01ff00" stroke="#01ff00" stroke-width="0.5" stroke-linejoin="round" d="M102.94 125.03L105.03 120.1L95.21 122.24z"/><path fill="url(#ga14)" stroke="url(#ga14)" stroke-width="0.4" stroke-linejoin="round" d="M112.75 122.35L117.66 121.28L109.94 119.03z"/><path fill="url(#ga15)" stroke="url(#ga15)" stroke-width="0.4" stroke-linejoin="round" d="M102.94 125.03L112.75 122.35L105.03 120.1z"/><path fill="#01ff00" stroke="#01ff00" stroke-width="0.5" stroke-linejoin="round" d="M93.12 127.17L95.21 122.24L85.4 124.38zM93.12 127.17L102.94 125.03L95.21 122.24z"/><path fill="url(#ga16)" stroke="url(#ga16)" stroke-width="0.4" stroke-linejoin="round" d="M196.89 109.89L206.7 108.48L198.99 107.69z"/><path fill="url(#ga17)" d="M187.07 111.11L189.17 110.01L179.36 111.42z"/><path fill="url(#ga18)" stroke="url(#ga18)" stroke-width="0.4" stroke-linejoin="round" d="M142.18 110.11L144.29 111.56L134.47 113.69z"/><path fill="url(#ga19)" stroke="url(#ga19)" stroke-width="0.4" stroke-linejoin="round" d="M142.18 110.11L152.01 112.53L144.29 111.56z"/><path fill="url(#ga20)" stroke="url(#ga20)" stroke-width="0.4" stroke-linejoin="round" d="M187.07 111.11L196.89 109.89L189.17 110.01z"/><path fill="url(#ga21)" stroke="url(#ga21)" stroke-width="0.4" stroke-linejoin="round" d="M100.84 127.78L102.94 125.03L93.12 127.17z"/><path fill="url(#ga22)" stroke="url(#ga22)" stroke-width="0.4" stroke-linejoin="round" d="M159.72 109.86L161.82 112.21L152.01 112.53z"/><path fill="url(#ga23)" d="M110.65 123.28L112.75 122.35L102.94 125.03z"/><path fill="url(#ga24)" stroke="url(#ga24)" stroke-width="0.4" stroke-linejoin="round" d="M159.72 109.86L169.54 111.37L161.82 112.21z"/><path fill="url(#ga25)" d="M177.26 111.79L179.36 111.42L169.54 111.37z"/><path fill="url(#ga26)" d="M177.26 111.79L187.07 111.11L179.36 111.42z"/><path fill="url(#ga27)" stroke="url(#ga27)" stroke-width="0.4" stroke-linejoin="round" d="M100.84 127.78L110.65 123.28L102.94 125.03z"/><path fill="url(#ga28)" stroke="url(#ga28)" stroke-width="0.4" stroke-linejoin="round" d="M120.46 114.76L117.66 121.28L112.75 122.35z"/><path fill="url(#ga29)" stroke="url(#ga29)" stroke-width="0.4" stroke-linejoin="round" d="M132.35 101.32L134.47 113.69L124.66 115.83z"/><path fill="url(#ga30)" d="M167.44 111.74L177.26 111.79L169.54 111.37z"/><path fill="url(#ga31)" stroke="url(#ga31)" stroke-width="0.4" stroke-linejoin="round" d="M108.56 127.66L110.65 123.28L100.84 127.78z"/><path fill="url(#ga32)" d="M167.44 111.74L169.54 111.37L159.72 109.86z"/><path fill="url(#ga33)" stroke="url(#ga33)" stroke-width="0.4" stroke-linejoin="round" d="M149.9 107.44L152.01 112.53L142.18 110.11z"/><path fill="url(#ga34)" stroke="url(#ga34)" stroke-width="0.4" stroke-linejoin="round" d="M110.65 123.28L120.46 114.76L112.75 122.35z"/><path fill="url(#ga35)" stroke="url(#ga35)" stroke-width="0.4" stroke-linejoin="round" d="M122.49 67.93L124.66 115.83L117.86 149.91z"/><path fill="url(#ga36)" stroke="url(#ga36)" stroke-width="0.4" stroke-linejoin="round" d="M149.9 107.44L159.72 109.86L152.01 112.53z"/><path fill="url(#ga37)" stroke="url(#ga37)" stroke-width="0.4" stroke-linejoin="round" d="M117.66 121.28L122.49 67.93L117.86 149.91z"/><path fill="url(#ga38)" stroke="url(#ga38)" stroke-width="0.4" stroke-linejoin="round" d="M132.35 101.32L142.18 110.11L134.47 113.69z"/><path fill="url(#ga39)" stroke="url(#ga39)" stroke-width="0.4" stroke-linejoin="round" d="M157.62 111.15L167.44 111.74L159.72 109.86z"/><path fill="url(#ga40)" stroke="url(#ga40)" stroke-width="0.4" stroke-linejoin="round" d="M108.56 127.66L118.36 118.78L110.65 123.28z"/><path fill="url(#ga41)" stroke="url(#ga41)" stroke-width="0.4" stroke-linejoin="round" d="M157.62 111.15L159.72 109.86L149.9 107.44z"/><path fill="url(#ga42)" stroke="url(#ga42)" stroke-width="0.4" stroke-linejoin="round" d="M118.36 118.78L120.46 114.76L110.65 123.28z"/><path fill="url(#ga43)" d="M120.46 114.76L125.35 105.5L117.66 121.28z"/><path fill="url(#ga44)" stroke="url(#ga44)" stroke-width="0.4" stroke-linejoin="round" d="M140.08 105.93L149.9 107.44L142.18 110.11z"/><path fill="url(#ga45)" stroke="url(#ga45)" stroke-width="0.4" stroke-linejoin="round" d="M147.8 110.55L157.62 111.15L149.9 107.44z"/><path fill="url(#ga46)" stroke="url(#ga46)" stroke-width="0.4" stroke-linejoin="round" d="M140.08 105.93L142.18 110.11L132.35 101.32z"/><path fill="url(#ga47)" stroke="url(#ga47)" stroke-width="0.4" stroke-linejoin="round" d="M118.36 118.78L128.17 113.91L120.46 114.76z"/><path fill="url(#ga48)" stroke="url(#ga48)" stroke-width="0.4" stroke-linejoin="round" d="M147.8 110.55L149.9 107.44L140.08 105.93z"/><path fill="url(#ga49)" stroke="url(#ga49)" stroke-width="0.4" stroke-linejoin="round" d="M137.99 111.78L147.8 110.55L140.08 105.93z"/><path fill="url(#ga50)" stroke="url(#ga50)" stroke-width="0.4" stroke-linejoin="round" d="M128.17 113.91L125.35 105.5L120.46 114.76z"/><path fill="url(#ga51)" stroke="url(#ga51)" stroke-width="0.4" stroke-linejoin="round" d="M128.17 113.91L133.08 112.85L125.35 105.5z"/><path fill="url(#ga52)" stroke="url(#ga52)" stroke-width="0.4" stroke-linejoin="round" d="M137.99 111.78L140.08 105.93L130.26 103.52z"/><path fill="url(#ga53)" stroke="url(#ga53)" stroke-width="0.4" stroke-linejoin="round" d="M133.08 112.85L137.99 111.78L130.26 103.52z"/><path fill="url(#ga54)" stroke="url(#ga54)" stroke-width="0.4" stroke-linejoin="round" d="M130.26 103.52L140.08 105.93L132.35 101.32z"/><path fill="url(#ga55)" stroke="url(#ga55)" stroke-width="0.4" stroke-linejoin="round" d="M133.08 112.85L130.26 103.52L125.35 105.5z"/><path fill="url(#ga56)" stroke="url(#ga56)" stroke-width="0.4" stroke-linejoin="round" d="M122.49 67.93L132.35 101.32L124.66 115.83z"/><path fill="url(#ga57)" stroke="url(#ga57)" stroke-width="0.4" stroke-linejoin="round" d="M125.35 105.5L122.49 67.93L117.66 121.28z"/><path fill="url(#ga58)" stroke="url(#ga58)" stroke-width="0.4" stroke-linejoin="round" d="M130.26 103.52L132.35 101.32L122.49 67.93z"/><path fill="url(#ga59)" stroke="url(#ga59)" stroke-width="0.4" stroke-linejoin="round" d="M125.35 105.5L130.26 103.52L122.49 67.93z"/><path fill="#ff00a1" d="M344.8 90.4L348.8 89.7L354.5 88.6L360.2 87.5L366.6 86.3L373.9 84.9L383.6 83.1L393.2 81.3L402.9 79.5L412.6 77.6L422.3 75.8L432 74L441.6 72.2L434 69.9L426.4 68.5L418.8 67.7L411.2 65.7L404.5 63.7L398.3 61.7L394 60.4L389.8 59L384.5 57.4L376.9 55L371.2 53.1L365.5 51.3L355.8 53.2L346.1 55L336.4 56.8L326.8 58.6L317.1 60.5L307.4 62.3L297.7 64.1L290.4 65.5L284 66.7L278.3 67.8L272.7 69.8L268.7 70.6L274.4 72.4L280.1 74.2L287.7 76.7L292.9 78.4L297.2 80.1L301.5 79.7L307.7 79.7L314.4 80.8L322 83.2L329.6 85.6L337.2 88z"/><defs><linearGradient id="gb0" gradientUnits="userSpaceOnUse" x1="281.24" y1="141.94" x2="301.29" y2="79.09"><stop offset="0" stop-color="#ff3800"/><stop offset="0.15" stop-color="#ffff00"/><stop offset="0.35" stop-color="#00ff00"/><stop offset="0.55" stop-color="#00ffff"/><stop offset="0.75" stop-color="#0000ff"/><stop offset="0.94" stop-color="#ff00ff"/><stop offset="1" stop-color="#ff00b6"/></linearGradient><linearGradient id="gb1" gradientUnits="userSpaceOnUse" x1="306.22" y1="149.91" x2="293.04" y2="76.43"><stop offset="0" stop-color="#ff3800"/><stop offset="0.15" stop-color="#ffff00"/><stop offset="0.34" stop-color="#00ff00"/><stop offset="0.53" stop-color="#00ffff"/><stop offset="0.73" stop-color="#0000ff"/><stop offset="0.92" stop-color="#ff00ff"/><stop offset="1" stop-color="#ff0094"/></linearGradient><linearGradient id="gb2" gradientUnits="userSpaceOnUse" x1="306.22" y1="149.91" x2="308.48" y2="74.03"><stop offset="0" stop-color="#ff3800"/><stop offset="0.15" stop-color="#ffff00"/><stop offset="0.34" stop-color="#00ff00"/><stop offset="0.53" stop-color="#00ffff"/><stop offset="0.72" stop-color="#0000ff"/><stop offset="0.91" stop-color="#ff00ff"/><stop offset="1" stop-color="#ff0085"/></linearGradient><linearGradient id="gb3" gradientUnits="userSpaceOnUse" x1="310.19" y1="149.96" x2="311.2" y2="70.23"><stop offset="0" stop-color="#ff3800"/><stop offset="0.14" stop-color="#ffff00"/><stop offset="0.31" stop-color="#00ff00"/><stop offset="0.49" stop-color="#00ffff"/><stop offset="0.66" stop-color="#0000ff"/><stop offset="0.84" stop-color="#ff00ff"/><stop offset="1" stop-color="#ff0013"/></linearGradient><linearGradient id="gb4" gradientUnits="userSpaceOnUse" x1="291.01" y1="144.5" x2="316.89" y2="71.63"><stop offset="0" stop-color="#ff3800"/><stop offset="0.14" stop-color="#ffff00"/><stop offset="0.32" stop-color="#00ff00"/><stop offset="0.5" stop-color="#00ffff"/><stop offset="0.68" stop-color="#0000ff"/><stop offset="0.86" stop-color="#ff00ff"/><stop offset="1" stop-color="#ff003f"/></linearGradient><linearGradient id="gb5" gradientUnits="userSpaceOnUse" x1="324.68" y1="146.65" x2="311.2" y2="70.23"><stop offset="0" stop-color="#ff3800"/><stop offset="0.14" stop-color="#ffff00"/><stop offset="0.31" stop-color="#00ff00"/><stop offset="0.49" stop-color="#00ffff"/><stop offset="0.66" stop-color="#0000ff"/><stop offset="0.84" stop-color="#ff00ff"/><stop offset="1" stop-color="#ff0013"/></linearGradient><linearGradient id="gb6" gradientUnits="userSpaceOnUse" x1="297.21" y1="80.1" x2="296.77" y2="77.72"><stop offset="0" stop-color="#ff00bb"/><stop offset="1" stop-color="#ff00b6"/></linearGradient><linearGradient id="gb7" gradientUnits="userSpaceOnUse" x1="301.21" y1="79.34" x2="300.76" y2="76.97"><stop offset="0" stop-color="#ff00bb"/><stop offset="1" stop-color="#ff00b6"/></linearGradient><linearGradient id="gb8" gradientUnits="userSpaceOnUse" x1="292.93" y1="78.45" x2="292.43" y2="75.8"><stop offset="0" stop-color="#ff00b6"/><stop offset="1" stop-color="#ff00b4"/></linearGradient><linearGradient id="gb9" gradientUnits="userSpaceOnUse" x1="296.93" y1="77.69" x2="296.43" y2="75.05"><stop offset="0" stop-color="#ff00b6"/><stop offset="1" stop-color="#ff00b4"/></linearGradient><linearGradient id="gb10" gradientUnits="userSpaceOnUse" x1="287.7" y1="76.69" x2="286.98" y2="72.88"><stop offset="0" stop-color="#ff00b4"/><stop offset="1" stop-color="#ff00b2"/></linearGradient><linearGradient id="gb11" gradientUnits="userSpaceOnUse" x1="291.69" y1="75.94" x2="290.97" y2="72.13"><stop offset="0" stop-color="#ff00b4"/><stop offset="1" stop-color="#ff00b2"/></linearGradient><linearGradient id="gb12" gradientUnits="userSpaceOnUse" x1="278.36" y1="71.62" x2="279.47" y2="68.11"><stop offset="0" stop-color="#ff00b2"/><stop offset="1" stop-color="#ff00a1"/></linearGradient><linearGradient id="gb13" gradientUnits="userSpaceOnUse" x1="284.07" y1="73.43" x2="285.19" y2="69.9"><stop offset="0" stop-color="#ff00b2"/><stop offset="1" stop-color="#ff00a0"/></linearGradient><linearGradient id="gb14" gradientUnits="userSpaceOnUse" x1="291.69" y1="75.94" x2="292.75" y2="72.26"><stop offset="0" stop-color="#ff00b4"/><stop offset="1" stop-color="#ff009d"/></linearGradient><linearGradient id="gb15" gradientUnits="userSpaceOnUse" x1="296.93" y1="77.69" x2="298.16" y2="73.42"><stop offset="0" stop-color="#ff00b6"/><stop offset="1" stop-color="#ff0094"/></linearGradient><linearGradient id="gb16" gradientUnits="userSpaceOnUse" x1="282.93" y1="73.08" x2="284.05" y2="69.56"><stop offset="0" stop-color="#ff00b2"/><stop offset="1" stop-color="#ff00a1"/></linearGradient><linearGradient id="gb17" gradientUnits="userSpaceOnUse" x1="305.65" y1="78.51" x2="305.5" y2="77.73"><stop offset="0" stop-color="#ff00bb"/><stop offset="1" stop-color="#ff0086"/></linearGradient><linearGradient id="gb18" gradientUnits="userSpaceOnUse" x1="288.6" y1="74.95" x2="289.76" y2="71.35"><stop offset="0" stop-color="#ff00b2"/><stop offset="1" stop-color="#ff00a0"/></linearGradient><linearGradient id="gb19" gradientUnits="userSpaceOnUse" x1="295.72" y1="77.92" x2="297.38" y2="73.6"><stop offset="0" stop-color="#ff00b2"/><stop offset="1" stop-color="#ff009d"/></linearGradient><linearGradient id="gb20" gradientUnits="userSpaceOnUse" x1="322.82" y1="60.26" x2="322.78" y2="62.26"><stop offset="0" stop-color="#ff00a1"/><stop offset="1" stop-color="#ff00a0"/></linearGradient><linearGradient id="gb21" gradientUnits="userSpaceOnUse" x1="338.3" y1="61.67" x2="337.52" y2="65.36"><stop offset="0" stop-color="#ff00a1"/><stop offset="1" stop-color="#ff00a0"/></linearGradient><linearGradient id="gb22" gradientUnits="userSpaceOnUse" x1="322.33" y1="59.58" x2="322.78" y2="62.26"><stop offset="0" stop-color="#ff00a1"/><stop offset="1" stop-color="#ff00a0"/></linearGradient><linearGradient id="gb23" gradientUnits="userSpaceOnUse" x1="404.34" y1="61.3" x2="404.51" y2="63.67"><stop offset="0" stop-color="#ff00a1"/><stop offset="1" stop-color="#ff00a0"/></linearGradient><linearGradient id="gb24" gradientUnits="userSpaceOnUse" x1="312.83" y1="61.68" x2="313.1" y2="64.08"><stop offset="0" stop-color="#ff00a1"/><stop offset="1" stop-color="#ff00a0"/></linearGradient><linearGradient id="gb25" gradientUnits="userSpaceOnUse" x1="360.7" y1="62.72" x2="360.71" y2="64.48"><stop offset="0" stop-color="#ff00a1"/><stop offset="1" stop-color="#ff00a0"/></linearGradient><linearGradient id="gb26" gradientUnits="userSpaceOnUse" x1="345.86" y1="62.48" x2="345.79" y2="64.64"><stop offset="0" stop-color="#ff00a1"/><stop offset="1" stop-color="#ff00a0"/></linearGradient><linearGradient id="gb27" gradientUnits="userSpaceOnUse" x1="374.72" y1="62.83" x2="374.64" y2="65.01"><stop offset="0" stop-color="#ff00a1"/><stop offset="1" stop-color="#ff00a0"/></linearGradient><linearGradient id="gb28" gradientUnits="userSpaceOnUse" x1="312.3" y1="60.67" x2="313.1" y2="64.08"><stop offset="0" stop-color="#ff00a1"/><stop offset="1" stop-color="#ff00a0"/></linearGradient><linearGradient id="gb29" gradientUnits="userSpaceOnUse" x1="328.53" y1="62.06" x2="328.49" y2="64.03"><stop offset="0" stop-color="#ff00a1"/><stop offset="1" stop-color="#ff00a0"/></linearGradient><linearGradient id="gb30" gradientUnits="userSpaceOnUse" x1="360.79" y1="63.17" x2="360.64" y2="65.6"><stop offset="0" stop-color="#ff00a1"/><stop offset="1" stop-color="#ff00a0"/></linearGradient><linearGradient id="gb31" gradientUnits="userSpaceOnUse" x1="378.92" y1="63.79" x2="378.96" y2="65.35"><stop offset="0" stop-color="#ff00a1"/><stop offset="1" stop-color="#ff00a0"/></linearGradient><linearGradient id="gb32" gradientUnits="userSpaceOnUse" x1="394.81" y1="63.48" x2="394.83" y2="65.48"><stop offset="0" stop-color="#ff00a1"/><stop offset="1" stop-color="#ff00a0"/></linearGradient><linearGradient id="gb33" gradientUnits="userSpaceOnUse" x1="345.97" y1="63.61" x2="345.38" y2="66.98"><stop offset="0" stop-color="#ff00a1"/><stop offset="1" stop-color="#ff00a0"/></linearGradient><linearGradient id="gb34" gradientUnits="userSpaceOnUse" x1="300.1" y1="67.97" x2="311.23" y2="61.06"><stop offset="0" stop-color="#ff00a1"/><stop offset="1" stop-color="#ff00a0"/></linearGradient><linearGradient id="gb35" gradientUnits="userSpaceOnUse" x1="364.96" y1="64.19" x2="364.99" y2="65.81"><stop offset="0" stop-color="#ff00a1"/><stop offset="1" stop-color="#ff00a0"/></linearGradient><linearGradient id="gb36" gradientUnits="userSpaceOnUse" x1="394.75" y1="63.31" x2="394.83" y2="65.48"><stop offset="0" stop-color="#ff00a1"/><stop offset="1" stop-color="#ff00a0"/></linearGradient><linearGradient id="gb37" gradientUnits="userSpaceOnUse" x1="379" y1="64.17" x2="378.92" y2="66.33"><stop offset="0" stop-color="#ff00a1"/><stop offset="1" stop-color="#ff00a0"/></linearGradient><linearGradient id="gb38" gradientUnits="userSpaceOnUse" x1="318.01" y1="62.46" x2="318.81" y2="65.83"><stop offset="0" stop-color="#ff00a1"/><stop offset="1" stop-color="#ff00a0"/></linearGradient><linearGradient id="gb39" gradientUnits="userSpaceOnUse" x1="351.03" y1="64.47" x2="351.03" y2="66.24"><stop offset="0" stop-color="#ff00a0"/><stop offset="1" stop-color="#ff009f"/></linearGradient><linearGradient id="gb40" gradientUnits="userSpaceOnUse" x1="365.08" y1="64.85" x2="364.86" y2="67.42"><stop offset="0" stop-color="#ff00a0"/><stop offset="1" stop-color="#ff009f"/></linearGradient><linearGradient id="gb41" gradientUnits="userSpaceOnUse" x1="308.56" y1="64.83" x2="309.13" y2="67.7"><stop offset="0" stop-color="#ff00a1"/><stop offset="1" stop-color="#ff00a0"/></linearGradient><linearGradient id="gb42" gradientUnits="userSpaceOnUse" x1="305.69" y1="69.74" x2="317.1" y2="62.96"><stop offset="0" stop-color="#ff00a1"/><stop offset="1" stop-color="#ff00a0"/></linearGradient><linearGradient id="gb43" gradientUnits="userSpaceOnUse" x1="301.3" y1="66.21" x2="301.87" y2="69.07"><stop offset="0" stop-color="#ff00a1"/><stop offset="1" stop-color="#ff00a0"/></linearGradient><linearGradient id="gb44" gradientUnits="userSpaceOnUse" x1="301.12" y1="66.05" x2="301.97" y2="69.47"><stop offset="0" stop-color="#ff00a1"/><stop offset="1" stop-color="#ff00a0"/></linearGradient><linearGradient id="gb45" gradientUnits="userSpaceOnUse" x1="369.25" y1="65.53" x2="369.28" y2="67.08"><stop offset="0" stop-color="#ff00a0"/><stop offset="1" stop-color="#ff009f"/></linearGradient><linearGradient id="gb46" gradientUnits="userSpaceOnUse" x1="385.15" y1="65.35" x2="385.15" y2="67.2"><stop offset="0" stop-color="#ff00a0"/><stop offset="1" stop-color="#ff009e"/></linearGradient><linearGradient id="gb47" gradientUnits="userSpaceOnUse" x1="294.98" y1="67.57" x2="295.45" y2="70.28"><stop offset="0" stop-color="#ff00a1"/><stop offset="1" stop-color="#ff00a0"/></linearGradient><linearGradient id="gb48" gradientUnits="userSpaceOnUse" x1="294.71" y1="67.26" x2="295.54" y2="70.63"><stop offset="0" stop-color="#ff00a1"/><stop offset="1" stop-color="#ff00a0"/></linearGradient><linearGradient id="gb49" gradientUnits="userSpaceOnUse" x1="298.09" y1="80.74" x2="302.62" y2="74.71"><stop offset="0" stop-color="#ff00b4"/><stop offset="1" stop-color="#ff0094"/></linearGradient><linearGradient id="gb50" gradientUnits="userSpaceOnUse" x1="289.43" y1="68.85" x2="289.76" y2="71.35"><stop offset="0" stop-color="#ff00a1"/><stop offset="1" stop-color="#ff00a0"/></linearGradient><linearGradient id="gb51" gradientUnits="userSpaceOnUse" x1="385.14" y1="65.32" x2="385.15" y2="67.2"><stop offset="0" stop-color="#ff00a0"/><stop offset="1" stop-color="#ff009e"/></linearGradient><linearGradient id="gb52" gradientUnits="userSpaceOnUse" x1="401.48" y1="65.44" x2="401.49" y2="67.41"><stop offset="0" stop-color="#ff00a0"/><stop offset="1" stop-color="#ff009d"/></linearGradient><linearGradient id="gb53" gradientUnits="userSpaceOnUse" x1="355.3" y1="65.92" x2="355.31" y2="67.42"><stop offset="0" stop-color="#ff00a0"/><stop offset="1" stop-color="#ff009c"/></linearGradient><linearGradient id="gb54" gradientUnits="userSpaceOnUse" x1="401.39" y1="65.17" x2="401.49" y2="67.41"><stop offset="0" stop-color="#ff00a0"/><stop offset="1" stop-color="#ff009d"/></linearGradient><linearGradient id="gb55" gradientUnits="userSpaceOnUse" x1="316.04" y1="66.31" x2="316.75" y2="69.93"><stop offset="0" stop-color="#ff00a0"/><stop offset="1" stop-color="#ff009d"/></linearGradient><linearGradient id="gb56" gradientUnits="userSpaceOnUse" x1="336.19" y1="64.22" x2="336.11" y2="66.08"><stop offset="0" stop-color="#ff00a0"/><stop offset="1" stop-color="#ff0099"/></linearGradient><linearGradient id="gb57" gradientUnits="userSpaceOnUse" x1="369.35" y1="66.17" x2="369.16" y2="68.55"><stop offset="0" stop-color="#ff00a0"/><stop offset="1" stop-color="#ff009c"/></linearGradient><linearGradient id="gb58" gradientUnits="userSpaceOnUse" x1="308.78" y1="67.69" x2="309.48" y2="71.32"><stop offset="0" stop-color="#ff00a0"/><stop offset="1" stop-color="#ff009d"/></linearGradient><linearGradient id="gb59" gradientUnits="userSpaceOnUse" x1="351.13" y1="65.75" x2="350.44" y2="69.07"><stop offset="0" stop-color="#ff00a0"/><stop offset="1" stop-color="#ff0099"/></linearGradient><linearGradient id="gb60" gradientUnits="userSpaceOnUse" x1="335.55" y1="62.81" x2="336.11" y2="66.08"><stop offset="0" stop-color="#ff00a0"/><stop offset="1" stop-color="#ff0099"/></linearGradient><linearGradient id="gb61" gradientUnits="userSpaceOnUse" x1="302.44" y1="69.03" x2="303.07" y2="72.54"><stop offset="0" stop-color="#ff00a0"/><stop offset="1" stop-color="#ff009e"/></linearGradient><linearGradient id="gb62" gradientUnits="userSpaceOnUse" x1="308.47" y1="67.37" x2="309.6" y2="71.77"><stop offset="0" stop-color="#ff00a0"/><stop offset="1" stop-color="#ff009d"/></linearGradient><linearGradient id="gb63" gradientUnits="userSpaceOnUse" x1="302.05" y1="68.59" x2="303.17" y2="72.94"><stop offset="0" stop-color="#ff00a0"/><stop offset="1" stop-color="#ff009d"/></linearGradient><linearGradient id="gb64" gradientUnits="userSpaceOnUse" x1="325.57" y1="63.98" x2="326.43" y2="67.79"><stop offset="0" stop-color="#ff00a0"/><stop offset="1" stop-color="#ff0097"/></linearGradient><linearGradient id="gb65" gradientUnits="userSpaceOnUse" x1="296.99" y1="70.45" x2="297.38" y2="73.6"><stop offset="0" stop-color="#ff00a0"/><stop offset="1" stop-color="#ff009d"/></linearGradient><linearGradient id="gb66" gradientUnits="userSpaceOnUse" x1="418.57" y1="65.09" x2="418.79" y2="67.7"><stop offset="0" stop-color="#ff00a0"/><stop offset="1" stop-color="#ff0098"/></linearGradient><linearGradient id="gb67" gradientUnits="userSpaceOnUse" x1="312.57" y1="72.77" x2="324.37" y2="64.76"><stop offset="0" stop-color="#ff00a0"/><stop offset="1" stop-color="#ff0097"/></linearGradient><linearGradient id="gb68" gradientUnits="userSpaceOnUse" x1="298.35" y1="78.01" x2="303.76" y2="80.94"><stop offset="0" stop-color="#ff00bb"/><stop offset="1" stop-color="#ff0086"/></linearGradient><linearGradient id="gb69" gradientUnits="userSpaceOnUse" x1="375.47" y1="67.12" x2="375.47" y2="68.54"><stop offset="0" stop-color="#ff009f"/><stop offset="1" stop-color="#ff0096"/></linearGradient><linearGradient id="gb70" gradientUnits="userSpaceOnUse" x1="326.14" y1="65.06" x2="326.43" y2="67.79"><stop offset="0" stop-color="#ff00a0"/><stop offset="1" stop-color="#ff0097"/></linearGradient><linearGradient id="gb71" gradientUnits="userSpaceOnUse" x1="391.82" y1="67.22" x2="391.81" y2="68.69"><stop offset="0" stop-color="#ff009e"/><stop offset="1" stop-color="#ff0093"/></linearGradient><linearGradient id="gb72" gradientUnits="userSpaceOnUse" x1="359.59" y1="67.15" x2="359.6" y2="68.28"><stop offset="0" stop-color="#ff009f"/><stop offset="1" stop-color="#ff0093"/></linearGradient><linearGradient id="gb73" gradientUnits="userSpaceOnUse" x1="314.29" y1="70.3" x2="314.72" y2="72.44"><stop offset="0" stop-color="#ff009e"/><stop offset="1" stop-color="#ff0094"/></linearGradient><linearGradient id="gb74" gradientUnits="userSpaceOnUse" x1="307.96" y1="71.7" x2="308.31" y2="73.7"><stop offset="0" stop-color="#ff009e"/><stop offset="1" stop-color="#ff0095"/></linearGradient><linearGradient id="gb75" gradientUnits="userSpaceOnUse" x1="321.56" y1="68.9" x2="321.98" y2="71.01"><stop offset="0" stop-color="#ff009d"/><stop offset="1" stop-color="#ff0093"/></linearGradient><linearGradient id="gb76" gradientUnits="userSpaceOnUse" x1="375.51" y1="67.31" x2="375.46" y2="68.85"><stop offset="0" stop-color="#ff009f"/><stop offset="1" stop-color="#ff0093"/></linearGradient><linearGradient id="gb77" gradientUnits="userSpaceOnUse" x1="391.8" y1="67.13" x2="391.81" y2="68.69"><stop offset="0" stop-color="#ff009e"/><stop offset="1" stop-color="#ff0093"/></linearGradient><linearGradient id="gb78" gradientUnits="userSpaceOnUse" x1="355.38" y1="67.09" x2="354.91" y2="69.46"><stop offset="0" stop-color="#ff009f"/><stop offset="1" stop-color="#ff0089"/></linearGradient><linearGradient id="gb79" gradientUnits="userSpaceOnUse" x1="341.37" y1="65.99" x2="341.35" y2="66.82"><stop offset="0" stop-color="#ff009f"/><stop offset="1" stop-color="#ff0089"/></linearGradient><linearGradient id="gb80" gradientUnits="userSpaceOnUse" x1="307.78" y1="71.45" x2="308.36" y2="73.92"><stop offset="0" stop-color="#ff009e"/><stop offset="1" stop-color="#ff0094"/></linearGradient><linearGradient id="gb81" gradientUnits="userSpaceOnUse" x1="314.21" y1="70.22" x2="314.78" y2="72.69"><stop offset="0" stop-color="#ff009d"/><stop offset="1" stop-color="#ff0093"/></linearGradient><linearGradient id="gb82" gradientUnits="userSpaceOnUse" x1="302.36" y1="72.89" x2="302.62" y2="74.71"><stop offset="0" stop-color="#ff009d"/><stop offset="1" stop-color="#ff0094"/></linearGradient><linearGradient id="gb83" gradientUnits="userSpaceOnUse" x1="409.1" y1="67.37" x2="409.11" y2="68.75"><stop offset="0" stop-color="#ff009d"/><stop offset="1" stop-color="#ff008a"/></linearGradient><linearGradient id="gb84" gradientUnits="userSpaceOnUse" x1="341.11" y1="65.3" x2="341.35" y2="66.82"><stop offset="0" stop-color="#ff0099"/><stop offset="1" stop-color="#ff0089"/></linearGradient><linearGradient id="gb85" gradientUnits="userSpaceOnUse" x1="409.04" y1="67.08" x2="409.11" y2="68.75"><stop offset="0" stop-color="#ff009d"/><stop offset="1" stop-color="#ff008a"/></linearGradient><linearGradient id="gb86" gradientUnits="userSpaceOnUse" x1="330.92" y1="65.82" x2="331.67" y2="68.41"><stop offset="0" stop-color="#ff009d"/><stop offset="1" stop-color="#ff0085"/></linearGradient><linearGradient id="gb87" gradientUnits="userSpaceOnUse" x1="317.73" y1="68.36" x2="327.78" y2="74.63"><stop offset="0" stop-color="#ff009d"/><stop offset="1" stop-color="#ff0085"/></linearGradient><linearGradient id="gb88" gradientUnits="userSpaceOnUse" x1="312.41" y1="73.02" x2="312.59" y2="74.15"><stop offset="0" stop-color="#ff0095"/><stop offset="1" stop-color="#ff0085"/></linearGradient><linearGradient id="gb89" gradientUnits="userSpaceOnUse" x1="318.73" y1="71.54" x2="319.01" y2="72.87"><stop offset="0" stop-color="#ff0095"/><stop offset="1" stop-color="#ff0083"/></linearGradient><linearGradient id="gb90" gradientUnits="userSpaceOnUse" x1="359.63" y1="68.02" x2="359.48" y2="69.09"><stop offset="0" stop-color="#ff009c"/><stop offset="1" stop-color="#ff0077"/></linearGradient><linearGradient id="gb91" gradientUnits="userSpaceOnUse" x1="331.49" y1="67.11" x2="331.67" y2="68.41"><stop offset="0" stop-color="#ff0097"/><stop offset="1" stop-color="#ff0085"/></linearGradient><linearGradient id="gb92" gradientUnits="userSpaceOnUse" x1="326" y1="70.1" x2="326.27" y2="71.42"><stop offset="0" stop-color="#ff0094"/><stop offset="1" stop-color="#ff0082"/></linearGradient><linearGradient id="gb93" gradientUnits="userSpaceOnUse" x1="382.14" y1="68.58" x2="382.13" y2="69.2"><stop offset="0" stop-color="#ff0096"/><stop offset="1" stop-color="#ff007c"/></linearGradient><linearGradient id="gb94" gradientUnits="userSpaceOnUse" x1="365.8" y1="68.35" x2="365.79" y2="68.84"><stop offset="0" stop-color="#ff0096"/><stop offset="1" stop-color="#ff007a"/></linearGradient><linearGradient id="gb95" gradientUnits="userSpaceOnUse" x1="345.65" y1="66.91" x2="345.63" y2="67.17"><stop offset="0" stop-color="#ff009c"/><stop offset="1" stop-color="#ff0077"/></linearGradient><linearGradient id="gb96" gradientUnits="userSpaceOnUse" x1="426.36" y1="67.34" x2="426.41" y2="68.52"><stop offset="0" stop-color="#ff0098"/><stop offset="1" stop-color="#ff007b"/></linearGradient><linearGradient id="gb97" gradientUnits="userSpaceOnUse" x1="312.3" y1="72.83" x2="312.62" y2="74.26"><stop offset="0" stop-color="#ff0095"/><stop offset="1" stop-color="#ff0083"/></linearGradient><linearGradient id="gb98" gradientUnits="userSpaceOnUse" x1="318.73" y1="71.57" x2="319.03" y2="72.98"><stop offset="0" stop-color="#ff0094"/><stop offset="1" stop-color="#ff0082"/></linearGradient><linearGradient id="gb99" gradientUnits="userSpaceOnUse" x1="399.42" y1="68.6" x2="399.43" y2="69.41"><stop offset="0" stop-color="#ff0093"/><stop offset="1" stop-color="#ff0075"/></linearGradient><linearGradient id="gb100" gradientUnits="userSpaceOnUse" x1="382.15" y1="68.69" x2="382.13" y2="69.22"><stop offset="0" stop-color="#ff0096"/><stop offset="1" stop-color="#ff007a"/></linearGradient><linearGradient id="gb101" gradientUnits="userSpaceOnUse" x1="334.2" y1="65.16" x2="335.95" y2="68.81"><stop offset="0" stop-color="#ff0093"/><stop offset="1" stop-color="#ff0074"/></linearGradient><linearGradient id="gb102" gradientUnits="userSpaceOnUse" x1="325.33" y1="69.43" x2="327.04" y2="73.04"><stop offset="0" stop-color="#ff0093"/><stop offset="1" stop-color="#ff0074"/></linearGradient><linearGradient id="gb103" gradientUnits="userSpaceOnUse" x1="345.5" y1="66.23" x2="345.63" y2="67.17"><stop offset="0" stop-color="#ff0089"/><stop offset="1" stop-color="#ff0077"/></linearGradient><linearGradient id="gb104" gradientUnits="userSpaceOnUse" x1="399.44" y1="68.72" x2="399.43" y2="69.41"><stop offset="0" stop-color="#ff0093"/><stop offset="1" stop-color="#ff0075"/></linearGradient><linearGradient id="gb105" gradientUnits="userSpaceOnUse" x1="301.6" y1="80.16" x2="311.69" y2="77.98"><stop offset="0" stop-color="#ff009c"/><stop offset="1" stop-color="#ff0067"/></linearGradient><linearGradient id="gb106" gradientUnits="userSpaceOnUse" x1="365.8" y1="68.68" x2="365.78" y2="68.94"><stop offset="0" stop-color="#ff0093"/><stop offset="1" stop-color="#ff006c"/></linearGradient><linearGradient id="gb107" gradientUnits="userSpaceOnUse" x1="350.02" y1="67.12" x2="349.92" y2="67.91"><stop offset="0" stop-color="#ff0093"/><stop offset="1" stop-color="#ff006c"/></linearGradient><linearGradient id="gb108" gradientUnits="userSpaceOnUse" x1="416.67" y1="68.36" x2="416.73" y2="69.61"><stop offset="0" stop-color="#ff008a"/><stop offset="1" stop-color="#ff006e"/></linearGradient><linearGradient id="gb109" gradientUnits="userSpaceOnUse" x1="302.97" y1="77.08" x2="310.02" y2="80.99"><stop offset="0" stop-color="#ff009c"/><stop offset="1" stop-color="#ff0067"/></linearGradient><linearGradient id="gb110" gradientUnits="userSpaceOnUse" x1="335.8" y1="67.79" x2="335.95" y2="68.81"><stop offset="0" stop-color="#ff0085"/><stop offset="1" stop-color="#ff0074"/></linearGradient><linearGradient id="gb111" gradientUnits="userSpaceOnUse" x1="416.73" y1="68.74" x2="416.73" y2="69.61"><stop offset="0" stop-color="#ff008a"/><stop offset="1" stop-color="#ff006e"/></linearGradient><linearGradient id="gb112" gradientUnits="userSpaceOnUse" x1="330.43" y1="70.53" x2="330.56" y2="71.13"><stop offset="0" stop-color="#ff0083"/><stop offset="1" stop-color="#ff0064"/></linearGradient><linearGradient id="gb113" gradientUnits="userSpaceOnUse" x1="372.48" y1="68.94" x2="372.45" y2="70.04"><stop offset="0" stop-color="#ff007c"/><stop offset="1" stop-color="#ff006a"/></linearGradient><linearGradient id="gb114" gradientUnits="userSpaceOnUse" x1="332.55" y1="63.53" x2="340.24" y2="69.66"><stop offset="0" stop-color="#ff0082"/><stop offset="1" stop-color="#ff006b"/></linearGradient><linearGradient id="gb115" gradientUnits="userSpaceOnUse" x1="323.32" y1="72.01" x2="323.3" y2="71.91"><stop offset="0" stop-color="#ff0085"/><stop offset="1" stop-color="#ff005a"/></linearGradient><linearGradient id="gb116" gradientUnits="userSpaceOnUse" x1="389.72" y1="69.05" x2="389.75" y2="70.59"><stop offset="0" stop-color="#ff007c"/><stop offset="1" stop-color="#ff0069"/></linearGradient><linearGradient id="gb117" gradientUnits="userSpaceOnUse" x1="349.75" y1="66.64" x2="349.92" y2="67.91"><stop offset="0" stop-color="#ff0077"/><stop offset="1" stop-color="#ff006c"/></linearGradient><linearGradient id="gb118" gradientUnits="userSpaceOnUse" x1="434.02" y1="68.49" x2="434.03" y2="69.93"><stop offset="0" stop-color="#ff007b"/><stop offset="1" stop-color="#ff0069"/></linearGradient><linearGradient id="gb119" gradientUnits="userSpaceOnUse" x1="330.51" y1="70.8" x2="330.56" y2="71.13"><stop offset="0" stop-color="#ff0082"/><stop offset="1" stop-color="#ff0064"/></linearGradient><linearGradient id="gb120" gradientUnits="userSpaceOnUse" x1="389.79" y1="69.42" x2="389.75" y2="70.59"><stop offset="0" stop-color="#ff007c"/><stop offset="1" stop-color="#ff0069"/></linearGradient><linearGradient id="gb121" gradientUnits="userSpaceOnUse" x1="302.32" y1="80.58" x2="312.39" y2="71.55"><stop offset="0" stop-color="#ff00bb"/><stop offset="1" stop-color="#ff0013"/></linearGradient><linearGradient id="gb122" gradientUnits="userSpaceOnUse" x1="356.51" y1="67.25" x2="356.11" y2="69.6"><stop offset="0" stop-color="#ff007a"/><stop offset="1" stop-color="#ff0067"/></linearGradient><linearGradient id="gb123" gradientUnits="userSpaceOnUse" x1="372.49" y1="69.09" x2="372.45" y2="70.21"><stop offset="0" stop-color="#ff007a"/><stop offset="1" stop-color="#ff0067"/></linearGradient><linearGradient id="gb124" gradientUnits="userSpaceOnUse" x1="340.01" y1="68.18" x2="340.24" y2="69.66"><stop offset="0" stop-color="#ff0074"/><stop offset="1" stop-color="#ff006b"/></linearGradient><linearGradient id="gb125" gradientUnits="userSpaceOnUse" x1="406.94" y1="69.02" x2="407.05" y2="71.1"><stop offset="0" stop-color="#ff0075"/><stop offset="1" stop-color="#ff0068"/></linearGradient><linearGradient id="gb126" gradientUnits="userSpaceOnUse" x1="407.08" y1="69.57" x2="407.05" y2="71.1"><stop offset="0" stop-color="#ff0075"/><stop offset="1" stop-color="#ff0068"/></linearGradient><linearGradient id="gb127" gradientUnits="userSpaceOnUse" x1="323.35" y1="72.34" x2="323.3" y2="71.91"><stop offset="0" stop-color="#ff0083"/><stop offset="1" stop-color="#ff005a"/></linearGradient><linearGradient id="gb128" gradientUnits="userSpaceOnUse" x1="355.85" y1="67.25" x2="356.11" y2="69.6"><stop offset="0" stop-color="#ff006c"/><stop offset="1" stop-color="#ff0067"/></linearGradient><linearGradient id="gb129" gradientUnits="userSpaceOnUse" x1="424.12" y1="68.97" x2="424.35" y2="71.63"><stop offset="0" stop-color="#ff006e"/><stop offset="1" stop-color="#ff0067"/></linearGradient><linearGradient id="gb130" gradientUnits="userSpaceOnUse" x1="317.38" y1="82.94" x2="318.36" y2="80.03"><stop offset="0" stop-color="#ff0079"/><stop offset="1" stop-color="#ff0066"/></linearGradient><linearGradient id="gb131" gradientUnits="userSpaceOnUse" x1="424.38" y1="69.72" x2="424.35" y2="71.63"><stop offset="0" stop-color="#ff006e"/><stop offset="1" stop-color="#ff0067"/></linearGradient><linearGradient id="gb132" gradientUnits="userSpaceOnUse" x1="308.24" y1="74.78" x2="313.71" y2="79.85"><stop offset="0" stop-color="#ff0086"/><stop offset="1" stop-color="#ff0055"/></linearGradient><linearGradient id="gb133" gradientUnits="userSpaceOnUse" x1="313.94" y1="78.53" x2="314.36" y2="80.78"><stop offset="0" stop-color="#ff0079"/><stop offset="1" stop-color="#ff0066"/></linearGradient><linearGradient id="gb134" gradientUnits="userSpaceOnUse" x1="380.09" y1="70.11" x2="380.07" y2="72.26"><stop offset="0" stop-color="#ff006a"/><stop offset="1" stop-color="#ff0066"/></linearGradient><linearGradient id="gb135" gradientUnits="userSpaceOnUse" x1="345.97" y1="68.7" x2="346.43" y2="71.41"><stop offset="0" stop-color="#ff006b"/><stop offset="1" stop-color="#ff0067"/></linearGradient><linearGradient id="gb136" gradientUnits="userSpaceOnUse" x1="363.4" y1="68.33" x2="362.77" y2="71.66"><stop offset="0" stop-color="#ff006a"/><stop offset="1" stop-color="#ff0066"/></linearGradient><linearGradient id="gb137" gradientUnits="userSpaceOnUse" x1="397.28" y1="70.33" x2="397.37" y2="72.84"><stop offset="0" stop-color="#ff0069"/><stop offset="1" stop-color="#ff0066"/></linearGradient><linearGradient id="gb138" gradientUnits="userSpaceOnUse" x1="441.66" y1="69.97" x2="441.65" y2="72.18"><stop offset="0" stop-color="#ff0069"/><stop offset="1" stop-color="#ff0066"/></linearGradient><linearGradient id="gb139" gradientUnits="userSpaceOnUse" x1="380.15" y1="70.38" x2="380.06" y2="72.41"><stop offset="0" stop-color="#ff006a"/><stop offset="1" stop-color="#ff0066"/></linearGradient><linearGradient id="gb140" gradientUnits="userSpaceOnUse" x1="346.52" y1="70.11" x2="346.36" y2="72.27"><stop offset="0" stop-color="#ff006b"/><stop offset="1" stop-color="#ff0064"/></linearGradient><linearGradient id="gb141" gradientUnits="userSpaceOnUse" x1="397.43" y1="70.82" x2="397.37" y2="72.84"><stop offset="0" stop-color="#ff0069"/><stop offset="1" stop-color="#ff0066"/></linearGradient><linearGradient id="gb142" gradientUnits="userSpaceOnUse" x1="414.48" y1="70.62" x2="414.67" y2="73.41"><stop offset="0" stop-color="#ff0068"/><stop offset="1" stop-color="#ff0066"/></linearGradient><linearGradient id="gb143" gradientUnits="userSpaceOnUse" x1="362.49" y1="68.93" x2="362.77" y2="71.66"><stop offset="0" stop-color="#ff0067"/><stop offset="1" stop-color="#ff0066"/></linearGradient><linearGradient id="gb144" gradientUnits="userSpaceOnUse" x1="342.43" y1="71.44" x2="343.41" y2="75.31"><stop offset="0" stop-color="#ff0068"/><stop offset="1" stop-color="#ff0066"/></linearGradient><linearGradient id="gb145" gradientUnits="userSpaceOnUse" x1="414.72" y1="71.28" x2="414.67" y2="73.41"><stop offset="0" stop-color="#ff0068"/><stop offset="1" stop-color="#ff0066"/></linearGradient><linearGradient id="gb146" gradientUnits="userSpaceOnUse" x1="342.61" y1="81.23" x2="353.09" y2="73.48"><stop offset="0" stop-color="#ff0068"/><stop offset="1" stop-color="#ff0066"/></linearGradient><linearGradient id="gb147" gradientUnits="userSpaceOnUse" x1="431.68" y1="70.94" x2="431.96" y2="73.99"><stop offset="0" stop-color="#ff0067"/><stop offset="1" stop-color="#ff0066"/></linearGradient><linearGradient id="gb148" gradientUnits="userSpaceOnUse" x1="336.74" y1="73.31" x2="336.49" y2="70.57"><stop offset="0" stop-color="#ff0068"/><stop offset="1" stop-color="#ff0064"/></linearGradient><linearGradient id="gb149" gradientUnits="userSpaceOnUse" x1="352.56" y1="70.36" x2="353.09" y2="73.48"><stop offset="0" stop-color="#ff0067"/><stop offset="1" stop-color="#ff0066"/></linearGradient><linearGradient id="gb150" gradientUnits="userSpaceOnUse" x1="342.64" y1="71.96" x2="343.49" y2="75.67"><stop offset="0" stop-color="#ff0068"/><stop offset="1" stop-color="#ff0066"/></linearGradient><linearGradient id="gb151" gradientUnits="userSpaceOnUse" x1="432" y1="71.75" x2="431.96" y2="73.99"><stop offset="0" stop-color="#ff0067"/><stop offset="1" stop-color="#ff0066"/></linearGradient><linearGradient id="gb152" gradientUnits="userSpaceOnUse" x1="335.52" y1="73.51" x2="336.16" y2="76.73"><stop offset="0" stop-color="#ff0068"/><stop offset="1" stop-color="#ff0066"/></linearGradient><linearGradient id="gb153" gradientUnits="userSpaceOnUse" x1="318.06" y1="77.29" x2="318.36" y2="80.03"><stop offset="0" stop-color="#ff0067"/><stop offset="1" stop-color="#ff0066"/></linearGradient><linearGradient id="gb154" gradientUnits="userSpaceOnUse" x1="336.24" y1="76.28" x2="335.76" y2="78.31"><stop offset="0" stop-color="#ff0068"/><stop offset="1" stop-color="#ff005e"/></linearGradient><linearGradient id="gb155" gradientUnits="userSpaceOnUse" x1="329.48" y1="74.69" x2="328.79" y2="70.91"><stop offset="0" stop-color="#ff0068"/><stop offset="1" stop-color="#ff005a"/></linearGradient><linearGradient id="gb156" gradientUnits="userSpaceOnUse" x1="329.73" y1="77.89" x2="329.04" y2="74.21"><stop offset="0" stop-color="#ff0066"/><stop offset="1" stop-color="#ff005e"/></linearGradient><linearGradient id="gb157" gradientUnits="userSpaceOnUse" x1="336.74" y1="73.31" x2="332.94" y2="78.7"><stop offset="0" stop-color="#ff0068"/><stop offset="1" stop-color="#ff005a"/></linearGradient><linearGradient id="gb158" gradientUnits="userSpaceOnUse" x1="324.03" y1="79.08" x2="324.26" y2="76.52"><stop offset="0" stop-color="#ff0067"/><stop offset="1" stop-color="#ff0055"/></linearGradient><linearGradient id="gb159" gradientUnits="userSpaceOnUse" x1="324.05" y1="78.97" x2="323.25" y2="74.78"><stop offset="0" stop-color="#ff0066"/><stop offset="1" stop-color="#ff0055"/></linearGradient><linearGradient id="gb160" gradientUnits="userSpaceOnUse" x1="317.07" y1="73.77" x2="316.89" y2="71.63"><stop offset="0" stop-color="#ff0085"/><stop offset="1" stop-color="#ff003f"/></linearGradient><linearGradient id="gb161" gradientUnits="userSpaceOnUse" x1="329.73" y1="77.89" x2="319.94" y2="82"><stop offset="0" stop-color="#ff0066"/><stop offset="1" stop-color="#ff0055"/></linearGradient><linearGradient id="gb162" gradientUnits="userSpaceOnUse" x1="323.84" y1="77.11" x2="320.77" y2="69.97"><stop offset="0" stop-color="#ff0068"/><stop offset="1" stop-color="#ff003f"/></linearGradient><linearGradient id="gb163" gradientUnits="userSpaceOnUse" x1="329.48" y1="74.69" x2="324.68" y2="79.47"><stop offset="0" stop-color="#ff0068"/><stop offset="1" stop-color="#ff003f"/></linearGradient><linearGradient id="gb164" gradientUnits="userSpaceOnUse" x1="316.9" y1="79.34" x2="318.05" y2="71.2"><stop offset="0" stop-color="#ff0086"/><stop offset="1" stop-color="#ff0013"/></linearGradient><linearGradient id="gb165" gradientUnits="userSpaceOnUse" x1="317.63" y1="76.81" x2="315.51" y2="69.05"><stop offset="0" stop-color="#ff005e"/><stop offset="1" stop-color="#ff0013"/></linearGradient><linearGradient id="gb166" gradientUnits="userSpaceOnUse" x1="323.07" y1="75.32" x2="318.43" y2="79.1"><stop offset="0" stop-color="#ff005e"/><stop offset="1" stop-color="#ff0013"/></linearGradient></defs><path fill="url(#gb0)" stroke="url(#gb0)" stroke-width="0.4" stroke-linejoin="round" d="M301.21 79.34L306.22 149.91L296.93 77.69z"/><path fill="url(#gb1)" stroke="url(#gb1)" stroke-width="0.4" stroke-linejoin="round" d="M306.22 149.91L302.62 74.71L296.93 77.69z"/><path fill="url(#gb2)" stroke="url(#gb2)" stroke-width="0.4" stroke-linejoin="round" d="M306.22 149.91L312.59 74.15L302.62 74.71z"/><path fill="url(#gb3)" stroke="url(#gb3)" stroke-width="0.4" stroke-linejoin="round" d="M311.2 70.23L306.22 149.91L301.21 79.34z"/><path fill="url(#gb4)" stroke="url(#gb4)" stroke-width="0.4" stroke-linejoin="round" d="M316.89 71.63L312.59 74.15L306.22 149.91z"/><path fill="url(#gb5)" stroke="url(#gb5)" stroke-width="0.4" stroke-linejoin="round" d="M311.2 70.23L316.89 71.63L306.22 149.91z"/><path fill="url(#gb6)" stroke="url(#gb6)" stroke-width="0.4" stroke-linejoin="round" d="M297.21 80.1L301.21 79.34L292.93 78.45z"/><path fill="url(#gb7)" stroke="url(#gb7)" stroke-width="0.4" stroke-linejoin="round" d="M301.21 79.34L296.93 77.69L292.93 78.45z"/><path fill="url(#gb8)" stroke="url(#gb8)" stroke-width="0.4" stroke-linejoin="round" d="M292.93 78.45L296.93 77.69L287.7 76.69z"/><path fill="url(#gb9)" stroke="url(#gb9)" stroke-width="0.4" stroke-linejoin="round" d="M296.93 77.69L291.69 75.94L287.7 76.69z"/><path fill="#ff00b2" stroke="#ff00b2" stroke-width="0.5" stroke-linejoin="round" d="M278.36 71.62L272.65 69.82L268.66 70.57zM274.37 72.38L278.36 71.62L268.66 70.57z"/><path fill="url(#gb10)" stroke="url(#gb10)" stroke-width="0.4" stroke-linejoin="round" d="M287.7 76.69L291.69 75.94L280.08 74.18z"/><path fill="#ff00b2" stroke="#ff00b2" stroke-width="0.5" stroke-linejoin="round" d="M284.07 73.43L278.36 71.62L274.37 72.38z"/><path fill="url(#gb11)" stroke="url(#gb11)" stroke-width="0.4" stroke-linejoin="round" d="M291.69 75.94L284.07 73.43L280.08 74.18z"/><path fill="#ff00b2" stroke="#ff00b2" stroke-width="0.5" stroke-linejoin="round" d="M280.08 74.18L284.07 73.43L274.37 72.38z"/><path fill="url(#gb12)" stroke="url(#gb12)" stroke-width="0.4" stroke-linejoin="round" d="M278.36 71.62L284.05 69.56L272.65 69.82z"/><path fill="url(#gb13)" stroke="url(#gb13)" stroke-width="0.4" stroke-linejoin="round" d="M284.07 73.43L289.76 71.35L278.36 71.62z"/><path fill="url(#gb14)" stroke="url(#gb14)" stroke-width="0.4" stroke-linejoin="round" d="M291.69 75.94L297.38 73.6L284.07 73.43z"/><path fill="url(#gb15)" stroke="url(#gb15)" stroke-width="0.4" stroke-linejoin="round" d="M296.93 77.69L302.62 74.71L291.69 75.94z"/><path fill="url(#gb16)" stroke="url(#gb16)" stroke-width="0.4" stroke-linejoin="round" d="M284.05 69.56L278.34 67.76L272.65 69.82z"/><path fill="url(#gb17)" d="M305.5 77.73L301.21 79.34L297.21 80.1z"/><path fill="url(#gb18)" stroke="url(#gb18)" stroke-width="0.4" stroke-linejoin="round" d="M289.76 71.35L284.05 69.56L278.36 71.62z"/><path fill="#ff00a1" stroke="#ff00a1" stroke-width="0.5" stroke-linejoin="round" d="M371.19 53.14L365.48 51.34L355.8 53.16zM361.51 54.97L371.19 53.14L355.8 53.16zM376.9 54.95L371.19 53.14L361.51 54.97zM361.51 54.97L355.8 53.16L346.12 54.99zM367.22 56.77L376.9 54.95L361.51 54.97zM351.83 56.79L361.51 54.97L346.12 54.99zM367.22 56.77L361.51 54.97L351.83 56.79zM351.83 56.79L346.12 54.99L336.43 56.81zM384.52 57.36L376.9 54.95L367.22 56.77zM357.54 58.6L367.22 56.77L351.83 56.79zM342.15 58.62L351.83 56.79L336.43 56.81z"/><path fill="url(#gb19)" stroke="url(#gb19)" stroke-width="0.4" stroke-linejoin="round" d="M297.38 73.6L289.76 71.35L284.07 73.43z"/><path fill="#ff00a1" stroke="#ff00a1" stroke-width="0.5" stroke-linejoin="round" d="M374.84 59.18L384.52 57.36L367.22 56.77zM357.54 58.6L351.83 56.79L342.15 58.62zM342.15 58.62L336.43 56.81L326.75 58.63zM374.84 59.18L367.22 56.77L357.54 58.6zM389.76 59.01L384.52 57.36L374.84 59.18zM347.86 60.42L357.54 58.6L342.15 58.62zM332.46 60.44L342.15 58.62L326.75 58.63zM365.16 61.01L374.84 59.18L357.54 58.6zM380.07 60.84L389.76 59.01L374.84 59.18zM347.86 60.42L342.15 58.62L332.46 60.44zM394.04 60.37L389.76 59.01L380.07 60.84zM365.16 61.01L357.54 58.6L347.86 60.42zM332.46 60.44L326.75 58.63L317.07 60.46zM380.07 60.84L374.84 59.18L365.16 61.01zM384.36 62.19L394.04 60.37L380.07 60.84zM338.18 62.25L347.86 60.42L332.46 60.44zM398.32 61.72L394.04 60.37L384.36 62.19z"/><path fill="url(#gb20)" stroke="url(#gb20)" stroke-width="0.4" stroke-linejoin="round" d="M322.78 62.26L332.46 60.44L317.07 60.46z"/><path fill="#ff00a1" stroke="#ff00a1" stroke-width="0.5" stroke-linejoin="round" d="M355.47 62.83L365.16 61.01L347.86 60.42zM370.39 62.66L380.07 60.84L365.16 61.01zM384.36 62.19L380.07 60.84L370.39 62.66zM355.47 62.83L347.86 60.42L338.18 62.25z"/><path fill="url(#gb21)" stroke="url(#gb21)" stroke-width="0.4" stroke-linejoin="round" d="M338.18 62.25L332.46 60.44L322.78 62.26z"/><path fill="url(#gb22)" stroke="url(#gb22)" stroke-width="0.4" stroke-linejoin="round" d="M322.78 62.26L317.07 60.46L307.39 62.28z"/><path fill="#ff00a1" stroke="#ff00a1" stroke-width="0.5" stroke-linejoin="round" d="M370.39 62.66L365.16 61.01L355.47 62.83zM388.64 63.54L398.32 61.72L384.36 62.19zM374.68 64.01L384.36 62.19L370.39 62.66z"/><path fill="url(#gb23)" stroke="url(#gb23)" stroke-width="0.4" stroke-linejoin="round" d="M404.51 63.67L398.32 61.72L388.64 63.54z"/><path fill="#ff00a1" stroke="#ff00a1" stroke-width="0.5" stroke-linejoin="round" d="M388.64 63.54L384.36 62.19L374.68 64.01z"/><path fill="url(#gb24)" stroke="url(#gb24)" stroke-width="0.4" stroke-linejoin="round" d="M313.1 64.08L322.78 62.26L307.39 62.28z"/><path fill="url(#gb25)" stroke="url(#gb25)" stroke-width="0.4" stroke-linejoin="round" d="M360.71 64.48L370.39 62.66L355.47 62.83z"/><path fill="url(#gb26)" stroke="url(#gb26)" stroke-width="0.4" stroke-linejoin="round" d="M345.79 64.64L355.47 62.83L338.18 62.25z"/><path fill="url(#gb27)" stroke="url(#gb27)" stroke-width="0.4" stroke-linejoin="round" d="M374.68 64.01L370.39 62.66L360.71 64.48z"/><path fill="url(#gb28)" stroke="url(#gb28)" stroke-width="0.4" stroke-linejoin="round" d="M313.1 64.08L307.39 62.28L297.71 64.11z"/><path fill="url(#gb29)" stroke="url(#gb29)" stroke-width="0.4" stroke-linejoin="round" d="M328.49 64.03L338.18 62.25L322.78 62.26z"/><path fill="url(#gb30)" stroke="url(#gb30)" stroke-width="0.4" stroke-linejoin="round" d="M360.71 64.48L355.47 62.83L345.79 64.64z"/><path fill="url(#gb31)" stroke="url(#gb31)" stroke-width="0.4" stroke-linejoin="round" d="M378.96 65.35L388.64 63.54L374.68 64.01z"/><path fill="url(#gb32)" stroke="url(#gb32)" stroke-width="0.4" stroke-linejoin="round" d="M394.83 65.48L404.51 63.67L388.64 63.54z"/><path fill="#ff00a0" stroke="#ff00a0" stroke-width="0.5" stroke-linejoin="round" d="M328.49 64.03L322.78 62.26L313.1 64.08z"/><path fill="url(#gb33)" stroke="url(#gb33)" stroke-width="0.4" stroke-linejoin="round" d="M345.79 64.64L338.18 62.25L328.49 64.03z"/><path fill="url(#gb34)" stroke="url(#gb34)" stroke-width="0.4" stroke-linejoin="round" d="M303.42 65.91L313.1 64.08L297.71 64.11z"/><path fill="#ff00a1" stroke="#ff00a1" stroke-width="0.5" stroke-linejoin="round" d="M303.42 65.91L297.71 64.11L290.44 65.48z"/><path fill="url(#gb35)" stroke="url(#gb35)" stroke-width="0.4" stroke-linejoin="round" d="M364.99 65.81L374.68 64.01L360.71 64.48z"/><path fill="url(#gb36)" stroke="url(#gb36)" stroke-width="0.4" stroke-linejoin="round" d="M394.83 65.48L388.64 63.54L378.96 65.35z"/><path fill="url(#gb37)" stroke="url(#gb37)" stroke-width="0.4" stroke-linejoin="round" d="M378.96 65.35L374.68 64.01L364.99 65.81z"/><path fill="#ff00a0" stroke="#ff00a0" stroke-width="0.5" stroke-linejoin="round" d="M411.18 65.73L404.51 63.67L394.83 65.48z"/><path fill="#ff00a1" stroke="#ff00a1" stroke-width="0.5" stroke-linejoin="round" d="M296.16 67.28L303.42 65.91L290.44 65.48zM296.16 67.28L290.44 65.48L284.03 66.68z"/><path fill="url(#gb38)" stroke="url(#gb38)" stroke-width="0.4" stroke-linejoin="round" d="M318.81 65.83L313.1 64.08L303.42 65.91z"/><path fill="url(#gb39)" stroke="url(#gb39)" stroke-width="0.4" stroke-linejoin="round" d="M351.03 66.24L360.71 64.48L345.79 64.64z"/><path fill="#ff00a0" stroke="#ff00a0" stroke-width="0.5" stroke-linejoin="round" d="M318.81 65.83L328.49 64.03L313.1 64.08z"/><path fill="url(#gb40)" stroke="url(#gb40)" stroke-width="0.4" stroke-linejoin="round" d="M364.99 65.81L360.71 64.48L351.03 66.24z"/><path fill="url(#gb41)" stroke="url(#gb41)" stroke-width="0.4" stroke-linejoin="round" d="M309.13 67.7L303.42 65.91L296.16 67.28z"/><path fill="#ff00a1" stroke="#ff00a1" stroke-width="0.5" stroke-linejoin="round" d="M289.74 68.49L296.16 67.28L284.03 66.68zM289.74 68.49L284.03 66.68L278.34 67.76z"/><path fill="url(#gb42)" stroke="url(#gb42)" stroke-width="0.4" stroke-linejoin="round" d="M309.13 67.7L318.81 65.83L303.42 65.91z"/><path fill="url(#gb43)" stroke="url(#gb43)" stroke-width="0.4" stroke-linejoin="round" d="M301.87 69.07L296.16 67.28L289.74 68.49z"/><path fill="#ff00a1" stroke="#ff00a1" stroke-width="0.5" stroke-linejoin="round" d="M284.05 69.56L289.74 68.49L278.34 67.76z"/><path fill="url(#gb44)" stroke="url(#gb44)" stroke-width="0.4" stroke-linejoin="round" d="M301.87 69.07L309.13 67.7L296.16 67.28z"/><path fill="url(#gb45)" stroke="url(#gb45)" stroke-width="0.4" stroke-linejoin="round" d="M369.28 67.08L378.96 65.35L364.99 65.81z"/><path fill="url(#gb46)" stroke="url(#gb46)" stroke-width="0.4" stroke-linejoin="round" d="M385.15 67.2L394.83 65.48L378.96 65.35z"/><path fill="url(#gb47)" stroke="url(#gb47)" stroke-width="0.4" stroke-linejoin="round" d="M295.45 70.28L289.74 68.49L284.05 69.56z"/><path fill="url(#gb48)" stroke="url(#gb48)" stroke-width="0.4" stroke-linejoin="round" d="M295.45 70.28L301.87 69.07L289.74 68.49z"/><path fill="url(#gb49)" stroke="url(#gb49)" stroke-width="0.4" stroke-linejoin="round" d="M302.62 74.71L297.38 73.6L291.69 75.94z"/><path fill="url(#gb50)" stroke="url(#gb50)" stroke-width="0.4" stroke-linejoin="round" d="M289.76 71.35L295.45 70.28L284.05 69.56z"/><path fill="url(#gb51)" stroke="url(#gb51)" stroke-width="0.4" stroke-linejoin="round" d="M385.15 67.2L378.96 65.35L369.28 67.08z"/><path fill="url(#gb52)" stroke="url(#gb52)" stroke-width="0.4" stroke-linejoin="round" d="M401.49 67.41L411.18 65.73L394.83 65.48z"/><path fill="url(#gb53)" stroke="url(#gb53)" stroke-width="0.4" stroke-linejoin="round" d="M355.31 67.42L364.99 65.81L351.03 66.24z"/><path fill="url(#gb54)" stroke="url(#gb54)" stroke-width="0.4" stroke-linejoin="round" d="M401.49 67.41L394.83 65.48L385.15 67.2z"/><path fill="url(#gb55)" stroke="url(#gb55)" stroke-width="0.4" stroke-linejoin="round" d="M316.75 69.93L309.13 67.7L301.87 69.07z"/><path fill="url(#gb56)" stroke="url(#gb56)" stroke-width="0.4" stroke-linejoin="round" d="M336.11 66.08L345.79 64.64L328.49 64.03z"/><path fill="url(#gb57)" stroke="url(#gb57)" stroke-width="0.4" stroke-linejoin="round" d="M369.28 67.08L364.99 65.81L355.31 67.42z"/><path fill="url(#gb58)" stroke="url(#gb58)" stroke-width="0.4" stroke-linejoin="round" d="M309.48 71.32L301.87 69.07L295.45 70.28z"/><path fill="url(#gb59)" stroke="url(#gb59)" stroke-width="0.4" stroke-linejoin="round" d="M351.03 66.24L345.79 64.64L336.11 66.08z"/><path fill="url(#gb60)" stroke="url(#gb60)" stroke-width="0.4" stroke-linejoin="round" d="M336.11 66.08L328.49 64.03L318.81 65.83z"/><path fill="url(#gb61)" stroke="url(#gb61)" stroke-width="0.4" stroke-linejoin="round" d="M303.07 72.54L295.45 70.28L289.76 71.35z"/><path fill="url(#gb62)" stroke="url(#gb62)" stroke-width="0.4" stroke-linejoin="round" d="M309.48 71.32L316.75 69.93L301.87 69.07z"/><path fill="url(#gb63)" stroke="url(#gb63)" stroke-width="0.4" stroke-linejoin="round" d="M303.07 72.54L309.48 71.32L295.45 70.28z"/><path fill="url(#gb64)" stroke="url(#gb64)" stroke-width="0.4" stroke-linejoin="round" d="M326.43 67.79L318.81 65.83L309.13 67.7z"/><path fill="url(#gb65)" stroke="url(#gb65)" stroke-width="0.4" stroke-linejoin="round" d="M297.38 73.6L303.07 72.54L289.76 71.35z"/><path fill="url(#gb66)" stroke="url(#gb66)" stroke-width="0.4" stroke-linejoin="round" d="M418.79 67.7L411.18 65.73L401.49 67.41z"/><path fill="url(#gb67)" stroke="url(#gb67)" stroke-width="0.4" stroke-linejoin="round" d="M316.75 69.93L326.43 67.79L309.13 67.7z"/><path fill="url(#gb68)" d="M301.5 79.72L305.5 77.73L297.21 80.1z"/><path fill="url(#gb69)" stroke="url(#gb69)" stroke-width="0.4" stroke-linejoin="round" d="M375.47 68.54L385.15 67.2L369.28 67.08z"/><path fill="url(#gb70)" stroke="url(#gb70)" stroke-width="0.4" stroke-linejoin="round" d="M326.43 67.79L336.11 66.08L318.81 65.83z"/><path fill="url(#gb71)" stroke="url(#gb71)" stroke-width="0.4" stroke-linejoin="round" d="M391.81 68.69L401.49 67.41L385.15 67.2z"/><path fill="url(#gb72)" stroke="url(#gb72)" stroke-width="0.4" stroke-linejoin="round" d="M359.6 68.28L369.28 67.08L355.31 67.42z"/><path fill="url(#gb73)" stroke="url(#gb73)" stroke-width="0.4" stroke-linejoin="round" d="M314.72 72.44L309.48 71.32L303.07 72.54z"/><path fill="url(#gb74)" stroke="url(#gb74)" stroke-width="0.4" stroke-linejoin="round" d="M308.31 73.7L303.07 72.54L297.38 73.6z"/><path fill="url(#gb75)" stroke="url(#gb75)" stroke-width="0.4" stroke-linejoin="round" d="M321.98 71.01L316.75 69.93L309.48 71.32z"/><path fill="url(#gb76)" stroke="url(#gb76)" stroke-width="0.4" stroke-linejoin="round" d="M375.47 68.54L369.28 67.08L359.6 68.28z"/><path fill="url(#gb77)" stroke="url(#gb77)" stroke-width="0.4" stroke-linejoin="round" d="M391.81 68.69L385.15 67.2L375.47 68.54z"/><path fill="url(#gb78)" stroke="url(#gb78)" stroke-width="0.4" stroke-linejoin="round" d="M355.31 67.42L351.03 66.24L341.35 66.82z"/><path fill="url(#gb79)" stroke="url(#gb79)" stroke-width="0.4" stroke-linejoin="round" d="M341.35 66.82L351.03 66.24L336.11 66.08z"/><path fill="url(#gb80)" stroke="url(#gb80)" stroke-width="0.4" stroke-linejoin="round" d="M308.31 73.7L314.72 72.44L303.07 72.54z"/><path fill="url(#gb81)" stroke="url(#gb81)" stroke-width="0.4" stroke-linejoin="round" d="M314.72 72.44L321.98 71.01L309.48 71.32z"/><path fill="url(#gb82)" stroke="url(#gb82)" stroke-width="0.4" stroke-linejoin="round" d="M302.62 74.71L308.31 73.7L297.38 73.6z"/><path fill="url(#gb83)" stroke="url(#gb83)" stroke-width="0.4" stroke-linejoin="round" d="M409.11 68.75L418.79 67.7L401.49 67.41z"/><path fill="url(#gb84)" stroke="url(#gb84)" stroke-width="0.4" stroke-linejoin="round" d="M341.35 66.82L336.11 66.08L326.43 67.79z"/><path fill="url(#gb85)" stroke="url(#gb85)" stroke-width="0.4" stroke-linejoin="round" d="M409.11 68.75L401.49 67.41L391.81 68.69z"/><path fill="url(#gb86)" stroke="url(#gb86)" stroke-width="0.4" stroke-linejoin="round" d="M331.67 68.41L326.43 67.79L316.75 69.93z"/><path fill="url(#gb87)" stroke="url(#gb87)" stroke-width="0.4" stroke-linejoin="round" d="M321.98 71.01L331.67 68.41L316.75 69.93z"/><path fill="url(#gb88)" d="M312.59 74.15L308.31 73.7L302.62 74.71z"/><path fill="url(#gb89)" stroke="url(#gb89)" stroke-width="0.4" stroke-linejoin="round" d="M319.01 72.87L314.72 72.44L308.31 73.7z"/><path fill="url(#gb90)" d="M359.6 68.28L355.31 67.42L345.63 67.17z"/><path fill="url(#gb91)" stroke="url(#gb91)" stroke-width="0.4" stroke-linejoin="round" d="M331.67 68.41L341.35 66.82L326.43 67.79z"/><path fill="url(#gb92)" stroke="url(#gb92)" stroke-width="0.4" stroke-linejoin="round" d="M326.27 71.42L321.98 71.01L314.72 72.44z"/><path fill="url(#gb93)" stroke="url(#gb93)" stroke-width="0.4" stroke-linejoin="round" d="M382.13 69.2L391.81 68.69L375.47 68.54z"/><path fill="url(#gb94)" d="M365.79 68.84L375.47 68.54L359.6 68.28z"/><path fill="url(#gb95)" d="M345.63 67.17L355.31 67.42L341.35 66.82z"/><path fill="url(#gb96)" stroke="url(#gb96)" stroke-width="0.4" stroke-linejoin="round" d="M426.41 68.52L418.79 67.7L409.11 68.75z"/><path fill="url(#gb97)" stroke="url(#gb97)" stroke-width="0.4" stroke-linejoin="round" d="M312.59 74.15L319.01 72.87L308.31 73.7z"/><path fill="url(#gb98)" stroke="url(#gb98)" stroke-width="0.4" stroke-linejoin="round" d="M319.01 72.87L326.27 71.42L314.72 72.44z"/><path fill="url(#gb99)" stroke="url(#gb99)" stroke-width="0.4" stroke-linejoin="round" d="M399.43 69.41L409.11 68.75L391.81 68.69z"/><path fill="url(#gb100)" stroke="url(#gb100)" stroke-width="0.4" stroke-linejoin="round" d="M382.13 69.2L375.47 68.54L365.79 68.84z"/><path fill="url(#gb101)" stroke="url(#gb101)" stroke-width="0.4" stroke-linejoin="round" d="M335.95 68.81L331.67 68.41L321.98 71.01z"/><path fill="url(#gb102)" stroke="url(#gb102)" stroke-width="0.4" stroke-linejoin="round" d="M326.27 71.42L335.95 68.81L321.98 71.01z"/><path fill="url(#gb103)" stroke="url(#gb103)" stroke-width="0.4" stroke-linejoin="round" d="M345.63 67.17L341.35 66.82L331.67 68.41z"/><path fill="url(#gb104)" stroke="url(#gb104)" stroke-width="0.4" stroke-linejoin="round" d="M399.43 69.41L391.81 68.69L382.13 69.2z"/><path fill="url(#gb105)" stroke="url(#gb105)" stroke-width="0.4" stroke-linejoin="round" d="M311.69 77.98L305.5 77.73L301.5 79.72z"/><path fill="url(#gb106)" d="M365.79 68.84L359.6 68.28L349.92 67.91z"/><path fill="url(#gb107)" d="M349.92 67.91L359.6 68.28L345.63 67.17z"/><path fill="url(#gb108)" stroke="url(#gb108)" stroke-width="0.4" stroke-linejoin="round" d="M416.73 69.61L426.41 68.52L409.11 68.75z"/><path fill="url(#gb109)" stroke="url(#gb109)" stroke-width="0.4" stroke-linejoin="round" d="M307.7 79.7L311.69 77.98L301.5 79.72z"/><path fill="url(#gb110)" stroke="url(#gb110)" stroke-width="0.4" stroke-linejoin="round" d="M335.95 68.81L345.63 67.17L331.67 68.41z"/><path fill="url(#gb111)" stroke="url(#gb111)" stroke-width="0.4" stroke-linejoin="round" d="M416.73 69.61L409.11 68.75L399.43 69.41z"/><path fill="url(#gb112)" d="M330.56 71.13L326.27 71.42L319.01 72.87z"/><path fill="url(#gb113)" stroke="url(#gb113)" stroke-width="0.4" stroke-linejoin="round" d="M372.45 70.04L382.13 69.2L365.79 68.84z"/><path fill="url(#gb114)" stroke="url(#gb114)" stroke-width="0.4" stroke-linejoin="round" d="M340.24 69.66L335.95 68.81L326.27 71.42z"/><path fill="url(#gb115)" d="M323.3 71.91L319.01 72.87L312.59 74.15z"/><path fill="url(#gb116)" stroke="url(#gb116)" stroke-width="0.4" stroke-linejoin="round" d="M389.75 70.59L399.43 69.41L382.13 69.2z"/><path fill="url(#gb117)" stroke="url(#gb117)" stroke-width="0.4" stroke-linejoin="round" d="M349.92 67.91L345.63 67.17L335.95 68.81z"/><path fill="url(#gb118)" stroke="url(#gb118)" stroke-width="0.4" stroke-linejoin="round" d="M434.03 69.93L426.41 68.52L416.73 69.61z"/><path fill="url(#gb119)" d="M330.56 71.13L340.24 69.66L326.27 71.42z"/><path fill="url(#gb120)" stroke="url(#gb120)" stroke-width="0.4" stroke-linejoin="round" d="M389.75 70.59L382.13 69.2L372.45 70.04z"/><path fill="url(#gb121)" stroke="url(#gb121)" stroke-width="0.4" stroke-linejoin="round" d="M305.5 77.73L311.2 70.23L301.21 79.34z"/><path fill="url(#gb122)" stroke="url(#gb122)" stroke-width="0.4" stroke-linejoin="round" d="M356.11 69.6L365.79 68.84L349.92 67.91z"/><path fill="url(#gb123)" stroke="url(#gb123)" stroke-width="0.4" stroke-linejoin="round" d="M372.45 70.04L365.79 68.84L356.11 69.6z"/><path fill="url(#gb124)" stroke="url(#gb124)" stroke-width="0.4" stroke-linejoin="round" d="M340.24 69.66L349.92 67.91L335.95 68.81z"/><path fill="url(#gb125)" stroke="url(#gb125)" stroke-width="0.4" stroke-linejoin="round" d="M407.05 71.1L416.73 69.61L399.43 69.41z"/><path fill="url(#gb126)" stroke="url(#gb126)" stroke-width="0.4" stroke-linejoin="round" d="M407.05 71.1L399.43 69.41L389.75 70.59z"/><path fill="url(#gb127)" d="M323.3 71.91L330.56 71.13L319.01 72.87z"/><path fill="url(#gb128)" stroke="url(#gb128)" stroke-width="0.4" stroke-linejoin="round" d="M356.11 69.6L349.92 67.91L340.24 69.66z"/><path fill="url(#gb129)" stroke="url(#gb129)" stroke-width="0.4" stroke-linejoin="round" d="M424.35 71.63L434.03 69.93L416.73 69.61z"/><path fill="url(#gb130)" stroke="url(#gb130)" stroke-width="0.4" stroke-linejoin="round" d="M318.36 80.03L311.69 77.98L307.7 79.7z"/><path fill="url(#gb131)" stroke="url(#gb131)" stroke-width="0.4" stroke-linejoin="round" d="M424.35 71.63L416.73 69.61L407.05 71.1z"/><path fill="url(#gb132)" stroke="url(#gb132)" stroke-width="0.4" stroke-linejoin="round" d="M311.69 77.98L317.38 75.9L305.5 77.73z"/><path fill="url(#gb133)" stroke="url(#gb133)" stroke-width="0.4" stroke-linejoin="round" d="M314.36 80.78L318.36 80.03L307.7 79.7z"/><path fill="url(#gb134)" stroke="url(#gb134)" stroke-width="0.4" stroke-linejoin="round" d="M380.07 72.26L389.75 70.59L372.45 70.04z"/><path fill="url(#gb135)" stroke="url(#gb135)" stroke-width="0.4" stroke-linejoin="round" d="M346.43 71.41L356.11 69.6L340.24 69.66z"/><path fill="url(#gb136)" stroke="url(#gb136)" stroke-width="0.4" stroke-linejoin="round" d="M362.77 71.66L372.45 70.04L356.11 69.6z"/><path fill="url(#gb137)" stroke="url(#gb137)" stroke-width="0.4" stroke-linejoin="round" d="M397.37 72.84L407.05 71.1L389.75 70.59z"/><path fill="url(#gb138)" stroke="url(#gb138)" stroke-width="0.4" stroke-linejoin="round" d="M441.65 72.18L434.03 69.93L424.35 71.63z"/><path fill="url(#gb139)" stroke="url(#gb139)" stroke-width="0.4" stroke-linejoin="round" d="M380.07 72.26L372.45 70.04L362.77 71.66z"/><path fill="url(#gb140)" stroke="url(#gb140)" stroke-width="0.4" stroke-linejoin="round" d="M346.43 71.41L340.24 69.66L330.56 71.13z"/><path fill="url(#gb141)" stroke="url(#gb141)" stroke-width="0.4" stroke-linejoin="round" d="M397.37 72.84L389.75 70.59L380.07 72.26z"/><path fill="url(#gb142)" stroke="url(#gb142)" stroke-width="0.4" stroke-linejoin="round" d="M414.67 73.41L424.35 71.63L407.05 71.1z"/><path fill="url(#gb143)" stroke="url(#gb143)" stroke-width="0.4" stroke-linejoin="round" d="M362.77 71.66L356.11 69.6L346.43 71.41z"/><path fill="url(#gb144)" stroke="url(#gb144)" stroke-width="0.4" stroke-linejoin="round" d="M343.41 75.31L336.74 73.31L329.48 74.69z"/><path fill="url(#gb145)" stroke="url(#gb145)" stroke-width="0.4" stroke-linejoin="round" d="M414.67 73.41L407.05 71.1L397.37 72.84z"/><path fill="url(#gb146)" stroke="url(#gb146)" stroke-width="0.4" stroke-linejoin="round" d="M353.09 73.48L346.43 71.41L336.74 73.31z"/><path fill="url(#gb147)" stroke="url(#gb147)" stroke-width="0.4" stroke-linejoin="round" d="M431.96 73.99L441.65 72.18L424.35 71.63z"/><path fill="url(#gb148)" stroke="url(#gb148)" stroke-width="0.4" stroke-linejoin="round" d="M336.74 73.31L346.43 71.41L330.56 71.13z"/><path fill="url(#gb149)" stroke="url(#gb149)" stroke-width="0.4" stroke-linejoin="round" d="M353.09 73.48L362.77 71.66L346.43 71.41z"/><path fill="url(#gb150)" stroke="url(#gb150)" stroke-width="0.4" stroke-linejoin="round" d="M343.41 75.31L353.09 73.48L336.74 73.31z"/><path fill="url(#gb151)" stroke="url(#gb151)" stroke-width="0.4" stroke-linejoin="round" d="M431.96 73.99L424.35 71.63L414.67 73.41z"/><path fill="#ff0066" stroke="#ff0066" stroke-width="0.5" stroke-linejoin="round" d="M370.39 74.06L380.07 72.26L362.77 71.66zM387.69 74.64L397.37 72.84L380.07 72.26z"/><path fill="url(#gb152)" stroke="url(#gb152)" stroke-width="0.4" stroke-linejoin="round" d="M336.15 76.68L343.41 75.31L329.48 74.69z"/><path fill="#ff0066" stroke="#ff0066" stroke-width="0.5" stroke-linejoin="round" d="M370.39 74.06L362.77 71.66L353.09 73.48zM404.98 75.23L414.67 73.41L397.37 72.84zM387.69 74.64L380.07 72.26L370.39 74.06zM404.98 75.23L397.37 72.84L387.69 74.64zM422.28 75.81L431.96 73.99L414.67 73.41zM422.28 75.81L414.67 73.41L404.98 75.23zM360.71 75.88L370.39 74.06L353.09 73.48zM360.71 75.88L353.09 73.48L343.41 75.31zM378 76.46L387.69 74.64L370.39 74.06zM395.3 77.05L404.98 75.23L387.69 74.64zM378 76.46L370.39 74.06L360.71 75.88zM395.3 77.05L387.69 74.64L378 76.46zM351.02 77.71L343.41 75.31L336.15 76.68zM412.6 77.63L422.28 75.81L404.98 75.23zM351.02 77.71L360.71 75.88L343.41 75.31zM412.6 77.63L404.98 75.23L395.3 77.05zM368.32 78.29L378 76.46L360.71 75.88zM343.76 79.08L336.15 76.68L329.73 77.89zM368.32 78.29L360.71 75.88L351.02 77.71zM385.62 78.87L395.3 77.05L378 76.46z"/><path fill="url(#gb153)" stroke="url(#gb153)" stroke-width="0.4" stroke-linejoin="round" d="M318.36 80.03L324.04 78.96L311.69 77.98z"/><path fill="#ff0066" stroke="#ff0066" stroke-width="0.5" stroke-linejoin="round" d="M343.76 79.08L351.02 77.71L336.15 76.68zM385.62 78.87L378 76.46L368.32 78.29zM402.92 79.46L412.6 77.63L395.3 77.05zM402.92 79.46L395.3 77.05L385.62 78.87zM337.35 80.28L329.73 77.89L324.04 78.96zM358.64 80.11L368.32 78.29L351.02 77.71zM337.35 80.28L343.76 79.08L329.73 77.89zM358.64 80.11L351.02 77.71L343.76 79.08zM375.94 80.7L385.62 78.87L368.32 78.29zM375.94 80.7L368.32 78.29L358.64 80.11zM331.66 81.36L324.04 78.96L318.36 80.03zM393.24 81.28L402.92 79.46L385.62 78.87zM331.66 81.36L337.35 80.28L324.04 78.96zM393.24 81.28L385.62 78.87L375.94 80.7zM351.38 81.48L358.64 80.11L343.76 79.08zM351.38 81.48L343.76 79.08L337.35 80.28zM325.97 82.43L318.36 80.03L314.36 80.78zM366.26 82.52L375.94 80.7L358.64 80.11zM325.97 82.43L331.66 81.36L318.36 80.03zM366.26 82.52L358.64 80.11L351.38 81.48zM344.96 82.69L337.35 80.28L331.66 81.36z"/><path fill="url(#gb154)" stroke="url(#gb154)" stroke-width="0.4" stroke-linejoin="round" d="M336.15 76.68L329.48 74.69L323.07 75.32z"/><path fill="#ff0066" stroke="#ff0066" stroke-width="0.5" stroke-linejoin="round" d="M344.96 82.69L351.38 81.48L337.35 80.28zM383.55 83.11L393.24 81.28L375.94 80.7zM383.55 83.11L375.94 80.7L366.26 82.52z"/><path fill="url(#gb155)" stroke="url(#gb155)" stroke-width="0.4" stroke-linejoin="round" d="M329.48 74.69L336.74 73.31L323.3 71.91z"/><path fill="#ff0066" stroke="#ff0066" stroke-width="0.5" stroke-linejoin="round" d="M321.98 83.18L325.97 82.43L314.36 80.78zM339.28 83.76L331.66 81.36L325.97 82.43zM358.99 83.89L366.26 82.52L351.38 81.48zM339.28 83.76L344.96 82.69L331.66 81.36zM358.99 83.89L351.38 81.48L344.96 82.69zM373.87 84.93L383.55 83.11L366.26 82.52zM333.59 84.83L325.97 82.43L321.98 83.18zM373.87 84.93L366.26 82.52L358.99 83.89zM333.59 84.83L339.28 83.76L325.97 82.43zM352.58 85.1L344.96 82.69L339.28 83.76zM352.58 85.1L358.99 83.89L344.96 82.69zM329.59 85.59L333.59 84.83L321.98 83.18z"/><path fill="url(#gb156)" stroke="url(#gb156)" stroke-width="0.4" stroke-linejoin="round" d="M329.73 77.89L336.15 76.68L323.07 75.32z"/><path fill="#ff0066" stroke="#ff0066" stroke-width="0.5" stroke-linejoin="round" d="M346.89 86.17L339.28 83.76L333.59 84.83zM366.61 86.3L373.87 84.93L358.99 83.89zM346.89 86.17L352.58 85.1L339.28 83.76zM366.61 86.3L358.99 83.89L352.58 85.1z"/><path fill="url(#gb157)" stroke="url(#gb157)" stroke-width="0.4" stroke-linejoin="round" d="M336.74 73.31L330.56 71.13L323.3 71.91z"/><path fill="#ff0066" stroke="#ff0066" stroke-width="0.5" stroke-linejoin="round" d="M341.2 87.24L333.59 84.83L329.59 85.59zM341.2 87.24L346.89 86.17L333.59 84.83zM360.19 87.51L352.58 85.1L346.89 86.17zM360.19 87.51L366.61 86.3L352.58 85.1zM337.21 88L341.2 87.24L329.59 85.59zM354.51 88.58L346.89 86.17L341.2 87.24zM354.51 88.58L360.19 87.51L346.89 86.17zM348.82 89.65L341.2 87.24L337.21 88zM348.82 89.65L354.51 88.58L341.2 87.24zM344.82 90.4L348.82 89.65L337.21 88z"/><path fill="url(#gb158)" stroke="url(#gb158)" stroke-width="0.4" stroke-linejoin="round" d="M324.04 78.96L317.38 75.9L311.69 77.98z"/><path fill="url(#gb159)" stroke="url(#gb159)" stroke-width="0.4" stroke-linejoin="round" d="M324.04 78.96L329.73 77.89L317.38 75.9z"/><path fill="url(#gb160)" stroke="url(#gb160)" stroke-width="0.4" stroke-linejoin="round" d="M316.89 71.63L323.3 71.91L312.59 74.15z"/><path fill="url(#gb161)" stroke="url(#gb161)" stroke-width="0.4" stroke-linejoin="round" d="M329.73 77.89L323.07 75.32L317.38 75.9z"/><path fill="url(#gb162)" stroke="url(#gb162)" stroke-width="0.4" stroke-linejoin="round" d="M323.07 75.32L329.48 74.69L316.89 71.63z"/><path fill="url(#gb163)" stroke="url(#gb163)" stroke-width="0.4" stroke-linejoin="round" d="M329.48 74.69L323.3 71.91L316.89 71.63z"/><path fill="url(#gb164)" stroke="url(#gb164)" stroke-width="0.4" stroke-linejoin="round" d="M317.38 75.9L311.2 70.23L305.5 77.73z"/><path fill="url(#gb165)" stroke="url(#gb165)" stroke-width="0.4" stroke-linejoin="round" d="M317.38 75.9L323.07 75.32L311.2 70.23z"/><path fill="url(#gb166)" stroke="url(#gb166)" stroke-width="0.4" stroke-linejoin="round" d="M323.07 75.32L316.89 71.63L311.2 70.23z"/><path fill="#ff0100" stroke="#ff0100" stroke-width="0.5" d="M675.6 145l0.2 0.4l0.8 -0.2l0 0zM674.6 144.8l0.5 0.8l0.7 -0.2l-0.2 -0.4zM673.6 144.7l0.7 1.1l0.8 -0.2l-0.5 -0.8zM672.7 144.5l0.9 1.5l0.7 -0.2l-0.7 -1.1zM671.7 144.4l1.2 1.8l0.7 -0.2l-0.9 -1.5zM670.7 144.2l1.4 2.2l0.8 -0.2l-1.2 -1.8zM669.8 144l1.6 2.6l0.7 -0.2l-1.4 -2.2zM668.8 143.9l1.9 2.9l0.7 -0.2l-1.6 -2.6zM667.8 143.7l2.1 3.4l0.8 -0.3l-1.9 -2.9zM666.8 143.5l2.4 3.8l0.7 -0.2l-2.1 -3.4z"/><path fill="#ff0200" stroke="#ff0200" stroke-width="0.5" d="M665.9 143.4l2.6 4.1l0.7 -0.2l-2.4 -3.8zM664.9 143.2l2.8 4.5l0.8 -0.2l-2.6 -4.1zM663.9 143l3.1 4.9l0.7 -0.2l-2.8 -4.5zM663 142.9l3.3 5.2l0.7 -0.2l-3.1 -4.9zM662 142.7l3.5 5.6l0.8 -0.2l-3.3 -5.2zM661 142.5l3.8 6l0.7 -0.2l-3.5 -5.6zM660 142.4l4.1 6.3l0.7 -0.2l-3.8 -6z"/><path fill="#ff0300" stroke="#ff0300" stroke-width="0.5" d="M659.1 142.2l4.2 6.7l0.8 -0.2l-4.1 -6.3zM658.1 142l4.5 7.1l0.7 -0.2l-4.2 -6.7zM657.1 141.9l4.8 7.4l0.7 -0.2l-4.5 -7.1zM656.2 141.7l4.9 7.8l0.8 -0.2l-4.8 -7.4zM655.2 141.5l5.2 8.2l0.7 -0.2l-4.9 -7.8z"/><path fill="#ff0400" stroke="#ff0400" stroke-width="0.5" d="M654.2 141.3l5.4 8.6l0.8 -0.2l-5.2 -8.2zM653.2 141.2l5.7 8.9l0.7 -0.2l-5.4 -8.6zM652.3 141l5.9 9.3l0.7 -0.2l-5.7 -8.9z"/><path fill="#ff0500" stroke="#ff0500" stroke-width="0.5" d="M651.3 140.8l6.1 9.7l0.8 -0.2l-5.9 -9.3zM650.3 140.6l6.4 10.1l0.7 -0.2l-6.1 -9.7zM649.4 140.4l6.6 10.4l0.7 -0.1l-6.4 -10.1z"/><path fill="#ff0600" stroke="#ff0600" stroke-width="0.5" d="M648.4 140.2l6.8 10.8l0.8 -0.2l-6.6 -10.4zM647.4 140.1l7.1 11.1l0.7 -0.2l-6.8 -10.8z"/><path fill="#ff0700" stroke="#ff0700" stroke-width="0.5" d="M646.5 139.9l7.3 11.5l0.7 -0.2l-7.1 -11.1zM645.5 139.7l7.5 11.9l0.8 -0.2l-7.3 -11.5z"/><path fill="#ff0800" stroke="#ff0800" stroke-width="0.5" d="M644.5 139.5l7.8 12.3l0.7 -0.2l-7.5 -11.9zM643.5 139.3l8.1 12.6l0.7 -0.1l-7.8 -12.3z"/><path fill="#ff0900" stroke="#ff0900" stroke-width="0.5" d="M642.6 139.1l8.2 13l0.8 -0.2l-8.1 -12.6zM641.6 138.9l8.5 13.4l0.7 -0.2l-8.2 -13z"/><path fill="#ff0a00" stroke="#ff0a00" stroke-width="0.5" d="M640.6 138.7l8.8 13.7l0.7 -0.1l-8.5 -13.4z"/><path fill="#ff0b00" stroke="#ff0b00" stroke-width="0.5" d="M639.7 138.5l8.9 14.1l0.8 -0.2l-8.8 -13.7z"/><path fill="#ff0c00" stroke="#ff0c00" stroke-width="0.5" d="M638.7 138.3l9.2 14.5l0.7 -0.2l-8.9 -14.1z"/><path fill="#ff0d00" stroke="#ff0d00" stroke-width="0.5" d="M637.7 138l9.4 14.9l0.8 -0.1l-9.2 -14.5z"/><path fill="#ff0e00" stroke="#ff0e00" stroke-width="0.5" d="M636.7 137.8l9.7 15.3l0.7 -0.2l-9.4 -14.9z"/><path fill="#ff0f00" stroke="#ff0f00" stroke-width="0.5" d="M635.8 137.6l9.9 15.6l0.7 -0.1l-9.7 -15.3z"/><path fill="#ff1000" stroke="#ff1000" stroke-width="0.5" d="M634.8 137.3l10.1 16l0.8 -0.1l-9.9 -15.6z"/><path fill="#ff1100" stroke="#ff1100" stroke-width="0.5" d="M633.8 137.1l10.4 16.4l0.7 -0.2l-10.1 -16z"/><path fill="#ff1200" stroke="#ff1200" stroke-width="0.5" d="M632.9 136.9l10.6 16.7l0.7 -0.1l-10.4 -16.4z"/><path fill="#ff1400" stroke="#ff1400" stroke-width="0.5" d="M631.9 136.6l10.8 17.1l0.8 -0.1l-10.6 -16.7z"/><path fill="#ff1500" stroke="#ff1500" stroke-width="0.5" d="M630.9 136.4l11.1 17.4l0.7 -0.1l-10.8 -17.1z"/><path fill="#ff1700" stroke="#ff1700" stroke-width="0.5" d="M629.9 136.1l11.4 17.8l0.7 -0.1l-11.1 -17.4z"/><path fill="#ff1800" stroke="#ff1800" stroke-width="0.5" d="M629 135.8l11.5 18.2l0.8 -0.1l-11.4 -17.8z"/><path fill="#ff1a00" stroke="#ff1a00" stroke-width="0.5" d="M628 135.5l11.8 18.6l0.7 -0.1l-11.5 -18.2z"/><path fill="#ff1c00" stroke="#ff1c00" stroke-width="0.5" d="M627 135.2l12.1 19l0.7 -0.1l-11.8 -18.6z"/><path fill="#ff1e00" stroke="#ff1e00" stroke-width="0.5" d="M626.1 134.9l12.2 19.4l0.8 -0.1l-12.1 -19z"/><path fill="#ff2000" stroke="#ff2000" stroke-width="0.5" d="M625.1 134.6l12.5 19.7l0.7 0l-12.2 -19.4z"/><path fill="#ff2300" stroke="#ff2300" stroke-width="0.5" d="M624.1 134.3l12.8 20.1l0.7 -0.1l-12.5 -19.7z"/><path fill="#ff2500" stroke="#ff2500" stroke-width="0.5" d="M623.1 134l13 20.4l0.8 0l-12.8 -20.1z"/><path fill="#ff2800" stroke="#ff2800" stroke-width="0.5" d="M622.2 133.6l13.2 20.8l0.7 0l-13 -20.4z"/><path fill="#ff2b00" stroke="#ff2b00" stroke-width="0.5" d="M621.2 133.3l13.4 21.1l0.8 0l-13.2 -20.8z"/><path fill="#ff2e00" stroke="#ff2e00" stroke-width="0.5" d="M620.2 132.9l13.7 21.5l0.7 0l-13.4 -21.1z"/><path fill="#ff3200" stroke="#ff3200" stroke-width="0.5" d="M619.3 132.5l13.9 21.9l0.7 0l-13.7 -21.5z"/><path fill="#ff3500" stroke="#ff3500" stroke-width="0.5" d="M618.3 132.1l14.1 22.3l0.8 0l-13.9 -21.9z"/><path fill="#ff3900" stroke="#ff3900" stroke-width="0.5" d="M617.3 131.7l14.4 22.6l0.7 0.1l-14.1 -22.3z"/><path fill="#ff3d00" stroke="#ff3d00" stroke-width="0.5" d="M616.3 131.2l14.7 23.1l0.7 0l-14.4 -22.6z"/><path fill="#ff4200" stroke="#ff4200" stroke-width="0.5" d="M615.4 130.7l14.8 23.5l0.8 0.1l-14.7 -23.1z"/><path fill="#ff4600" stroke="#ff4600" stroke-width="0.5" d="M614.4 130.3l15.1 23.8l0.7 0.1l-14.8 -23.5z"/><path fill="#ff4c00" stroke="#ff4c00" stroke-width="0.5" d="M613.4 129.8l15.4 24.1l0.7 0.2l-15.1 -23.8z"/><path fill="#ff5100" stroke="#ff5100" stroke-width="0.5" d="M612.5 129.2l15.5 24.6l0.8 0.1l-15.4 -24.1z"/><path fill="#ff5700" stroke="#ff5700" stroke-width="0.5" d="M611.5 128.7l15.8 24.9l0.7 0.2l-15.5 -24.6z"/><path fill="#ff5d00" stroke="#ff5d00" stroke-width="0.5" d="M610.5 128.1l16.1 25.3l0.7 0.2l-15.8 -24.9z"/><path fill="#ff6400" stroke="#ff6400" stroke-width="0.5" d="M609.5 127.5l16.3 25.6l0.8 0.3l-16.1 -25.3z"/><path fill="#ff6b00" stroke="#ff6b00" stroke-width="0.5" d="M608.6 126.8l16.5 26.1l0.7 0.2l-16.3 -25.6z"/><path fill="#ff7200" stroke="#ff7200" stroke-width="0.5" d="M607.6 126.2l16.7 26.4l0.8 0.3l-16.5 -26.1z"/><path fill="#ff7a00" stroke="#ff7a00" stroke-width="0.5" d="M606.6 125.4l17 26.8l0.7 0.4l-16.7 -26.4z"/><path fill="#ff8300" stroke="#ff8300" stroke-width="0.5" d="M605.7 124.7l17.2 27.1l0.7 0.4l-17 -26.8z"/><path fill="#ff8c00" stroke="#ff8c00" stroke-width="0.5" d="M604.7 123.9l17.4 27.5l0.8 0.4l-17.2 -27.1z"/><path fill="#ff9500" stroke="#ff9500" stroke-width="0.5" d="M603.7 123.1l17.7 27.9l0.7 0.4l-17.4 -27.5z"/><path fill="#ff9f00" stroke="#ff9f00" stroke-width="0.5" d="M602.7 122.3l18 28.2l0.7 0.5l-17.7 -27.9z"/><path fill="#ffaa00" stroke="#ffaa00" stroke-width="0.5" d="M601.8 121.4l18.1 28.6l0.8 0.5l-18 -28.2z"/><path fill="#ffb500" stroke="#ffb500" stroke-width="0.5" d="M600.8 120.4l18.4 29l0.7 0.6l-18.1 -28.6z"/><path fill="#ffc100" stroke="#ffc100" stroke-width="0.5" d="M599.8 119.5l18.7 29.3l0.7 0.6l-18.4 -29z"/><path fill="#ffce00" stroke="#ffce00" stroke-width="0.5" d="M598.8 118.4l18.9 29.8l0.8 0.6l-18.7 -29.3z"/><path fill="#ffdc00" stroke="#ffdc00" stroke-width="0.5" d="M597.9 117.3l19.1 30.2l0.7 0.7l-18.9 -29.8z"/><path fill="#ffea00" stroke="#ffea00" stroke-width="0.5" d="M596.9 116.2l19.3 30.5l0.8 0.8l-19.1 -30.2z"/><path fill="#fff900" stroke="#fff900" stroke-width="0.5" d="M595.9 115.1l19.6 30.8l0.7 0.8l-19.3 -30.5z"/><path fill="#f6ff00" stroke="#f6ff00" stroke-width="0.5" d="M594.9 113.8l19.9 31.3l0.7 0.8l-19.6 -30.8z"/><path fill="#e5ff00" stroke="#e5ff00" stroke-width="0.5" d="M594 112.6l20 31.6l0.8 0.9l-19.9 -31.3z"/><path fill="#d4ff00" stroke="#d4ff00" stroke-width="0.5" d="M593 111.2l20.3 32l0.7 1l-20 -31.6z"/><path fill="#c2ff00" stroke="#c2ff00" stroke-width="0.5" d="M592 109.8l20.6 32.4l0.7 1l-20.3 -32z"/><path fill="#b0ff00" stroke="#b0ff00" stroke-width="0.5" d="M591.1 108.4l20.7 32.7l0.8 1.1l-20.6 -32.4z"/><path fill="#9cff00" stroke="#9cff00" stroke-width="0.5" d="M590.1 106.9l21 33.1l0.7 1.1l-20.7 -32.7z"/><path fill="#88ff00" stroke="#88ff00" stroke-width="0.5" d="M589.1 105.4l21.2 33.5l0.8 1.1l-21 -33.1z"/><path fill="#73ff00" stroke="#73ff00" stroke-width="0.5" d="M588.1 103.8l21.5 33.8l0.7 1.3l-21.2 -33.5z"/><path fill="#5dff00" stroke="#5dff00" stroke-width="0.5" d="M587.2 102.2l21.7 34.2l0.7 1.2l-21.5 -33.8z"/><path fill="#46ff00" stroke="#46ff00" stroke-width="0.5" d="M586.2 100.5l21.9 34.6l0.8 1.3l-21.7 -34.2z"/><path fill="#2fff00" stroke="#2fff00" stroke-width="0.5" d="M585.2 98.8l22.2 34.9l0.7 1.4l-21.9 -34.6z"/><path fill="#17ff00" stroke="#17ff00" stroke-width="0.5" d="M584.2 97l22.4 35.3l0.8 1.4l-22.2 -34.9z"/><path fill="#00ff02" stroke="#00ff02" stroke-width="0.5" d="M583.3 95.2l22.6 35.6l0.7 1.5l-22.4 -35.3z"/><path fill="#00ff1b" stroke="#00ff1b" stroke-width="0.5" d="M582.3 93.3l22.9 36.1l0.7 1.4l-22.6 -35.6z"/><path fill="#00ff35" stroke="#00ff35" stroke-width="0.5" d="M581.3 91.4l23.1 36.4l0.8 1.6l-22.9 -36.1z"/><path fill="#00ff4f" stroke="#00ff4f" stroke-width="0.5" d="M580.3 89.5l23.4 36.8l0.7 1.5l-23.1 -36.4z"/><path fill="#004fff" stroke="#004fff" stroke-width="0.5" d="M569.5 66.6l23.1 36.4l1 1.9l-23.4 -36.8z"/><path fill="#0035ff" stroke="#0035ff" stroke-width="0.5" d="M568.7 65.1l22.9 36l1 1.9l-23.1 -36.4z"/><path fill="#001bff" stroke="#001bff" stroke-width="0.5" d="M568 63.6l22.6 35.7l1 1.8l-22.9 -36z"/><path fill="#0002ff" stroke="#0002ff" stroke-width="0.5" d="M567.3 62.1l22.4 35.4l0.9 1.8l-22.6 -35.7z"/><path fill="#1700ff" stroke="#1700ff" stroke-width="0.5" d="M566.5 60.7l22.2 35l1 1.8l-22.4 -35.4z"/><path fill="#2f00ff" stroke="#2f00ff" stroke-width="0.5" d="M565.8 59.4l21.9 34.5l1 1.8l-22.2 -35z"/><path fill="#4600ff" stroke="#4600ff" stroke-width="0.5" d="M565 58.1l21.7 34.2l1 1.6l-21.9 -34.5z"/><path fill="#5d00ff" stroke="#5d00ff" stroke-width="0.5" d="M564.3 56.8l21.5 33.8l0.9 1.7l-21.7 -34.2z"/><path fill="#7300ff" stroke="#7300ff" stroke-width="0.5" d="M563.6 55.6l21.2 33.4l1 1.6l-21.5 -33.8z"/><path fill="#8800ff" stroke="#8800ff" stroke-width="0.5" d="M562.8 54.4l21 33.1l1 1.5l-21.2 -33.4z"/><path fill="#9c00ff" stroke="#9c00ff" stroke-width="0.5" d="M562.1 53.3l20.7 32.7l1 1.5l-21 -33.1z"/><path fill="#b000ff" stroke="#b000ff" stroke-width="0.5" d="M561.3 52.2l20.6 32.4l0.9 1.4l-20.7 -32.7z"/><path fill="#c200ff" stroke="#c200ff" stroke-width="0.5" d="M560.6 51.2l20.3 32l1 1.4l-20.6 -32.4z"/><path fill="#d400ff" stroke="#d400ff" stroke-width="0.5" d="M559.9 50.3l20 31.6l1 1.3l-20.3 -32z"/><path fill="#e500ff" stroke="#e500ff" stroke-width="0.5" d="M559.1 49.4l19.9 31.2l0.9 1.3l-20 -31.6z"/><path fill="#f600ff" stroke="#f600ff" stroke-width="0.5" d="M558.4 48.5l19.6 30.9l1 1.2l-19.9 -31.2z"/><path fill="#ff00f9" stroke="#ff00f9" stroke-width="0.5" d="M557.7 47.7l19.3 30.5l1 1.2l-19.6 -30.9z"/><path fill="#ff00ea" stroke="#ff00ea" stroke-width="0.5" d="M556.9 47l19.1 30.1l1 1.1l-19.3 -30.5z"/><path fill="#ff00dc" stroke="#ff00dc" stroke-width="0.5" d="M556.2 46.3l18.9 29.7l0.9 1.1l-19.1 -30.1z"/><path fill="#ff00ce" stroke="#ff00ce" stroke-width="0.5" d="M555.4 45.6l18.7 29.4l1 1l-18.9 -29.7z"/><path fill="#ff00c1" stroke="#ff00c1" stroke-width="0.5" d="M554.7 45l18.4 29l1 1l-18.7 -29.4z"/><path fill="#ff00b5" stroke="#ff00b5" stroke-width="0.5" d="M554 44.4l18.1 28.7l1 0.9l-18.4 -29z"/><path fill="#ff00aa" stroke="#ff00aa" stroke-width="0.5" d="M553.2 43.9l18 28.3l0.9 0.9l-18.1 -28.7z"/><path fill="#ff009f" stroke="#ff009f" stroke-width="0.5" d="M552.5 43.4l17.7 27.9l1 0.9l-18 -28.3z"/><path fill="#ff0095" stroke="#ff0095" stroke-width="0.5" d="M551.8 43l17.4 27.5l1 0.8l-17.7 -27.9z"/><path fill="#ff008c" stroke="#ff008c" stroke-width="0.5" d="M551 42.6l17.2 27.1l1 0.8l-17.4 -27.5z"/><path fill="#ff0083" stroke="#ff0083" stroke-width="0.5" d="M550.3 42.2l17 26.8l0.9 0.7l-17.2 -27.1z"/><path fill="#ff007a" stroke="#ff007a" stroke-width="0.5" d="M549.6 41.9l16.7 26.4l1 0.7l-17 -26.8z"/><path fill="#ff0072" stroke="#ff0072" stroke-width="0.5" d="M548.8 41.6l16.5 26l1 0.7l-16.7 -26.4z"/><path fill="#ff006b" stroke="#ff006b" stroke-width="0.5" d="M548.1 41.3l16.3 25.7l0.9 0.6l-16.5 -26z"/><path fill="#ff0064" stroke="#ff0064" stroke-width="0.5" d="M547.3 41.1l16.1 25.3l1 0.6l-16.3 -25.7z"/><path fill="#ff005d" stroke="#ff005d" stroke-width="0.5" d="M546.6 40.9l15.8 24.9l1 0.6l-16.1 -25.3z"/><path fill="#ff0057" stroke="#ff0057" stroke-width="0.5" d="M545.9 40.7l15.5 24.5l1 0.6l-15.8 -24.9z"/><path fill="#ff0051" stroke="#ff0051" stroke-width="0.5" d="M545.1 40.5l15.4 24.2l0.9 0.5l-15.5 -24.5z"/><path fill="#ff004c" stroke="#ff004c" stroke-width="0.5" d="M544.4 40.4l15.1 23.8l1 0.5l-15.4 -24.2z"/><path fill="#ff0046" stroke="#ff0046" stroke-width="0.5" d="M543.7 40.3l14.8 23.4l1 0.5l-15.1 -23.8z"/><path fill="#ff0042" stroke="#ff0042" stroke-width="0.5" d="M542.9 40.2l14.7 23l0.9 0.5l-14.8 -23.4z"/><path fill="#ff003d" stroke="#ff003d" stroke-width="0.5" d="M542.2 40.1l14.4 22.7l1 0.4l-14.7 -23z"/><path fill="#ff0039" stroke="#ff0039" stroke-width="0.5" d="M541.5 40l14.1 22.4l1 0.4l-14.4 -22.7z"/><path fill="#ff0035" stroke="#ff0035" stroke-width="0.5" d="M540.7 40l13.9 21.9l1 0.5l-14.1 -22.4z"/><path fill="#ff0032" stroke="#ff0032" stroke-width="0.5" d="M540 40l13.7 21.6l0.9 0.3l-13.9 -21.9z"/><path fill="#ff002e" stroke="#ff002e" stroke-width="0.5" d="M539.3 40l13.4 21.2l1 0.4l-13.7 -21.6z"/><path fill="#ff002b" stroke="#ff002b" stroke-width="0.5" d="M538.5 40l13.2 20.8l1 0.4l-13.4 -21.2z"/><path fill="#ff0028" stroke="#ff0028" stroke-width="0.5" d="M537.8 40l13 20.5l0.9 0.3l-13.2 -20.8z"/><path fill="#ff0025" stroke="#ff0025" stroke-width="0.5" d="M537 40.1l12.8 20l1 0.4l-13 -20.5z"/><path fill="#ff0023" stroke="#ff0023" stroke-width="0.5" d="M536.3 40.1l12.5 19.7l1 0.3l-12.8 -20z"/><path fill="#ff0020" stroke="#ff0020" stroke-width="0.5" d="M535.6 40.2l12.2 19.3l1 0.3l-12.5 -19.7z"/><path fill="#ff001e" stroke="#ff001e" stroke-width="0.5" d="M534.8 40.2l12.1 19l0.9 0.3l-12.2 -19.3z"/><path fill="#ff001c" stroke="#ff001c" stroke-width="0.5" d="M534.1 40.3l11.8 18.6l1 0.3l-12.1 -19z"/><path fill="#ff001a" stroke="#ff001a" stroke-width="0.5" d="M533.4 40.4l11.5 18.2l1 0.3l-11.8 -18.6z"/><path fill="#ff0018" stroke="#ff0018" stroke-width="0.5" d="M532.6 40.5l11.4 17.8l0.9 0.3l-11.5 -18.2z"/><path fill="#ff0017" stroke="#ff0017" stroke-width="0.5" d="M531.9 40.6l11.1 17.5l1 0.2l-11.4 -17.8z"/><path fill="#ff0015" stroke="#ff0015" stroke-width="0.5" d="M531.2 40.7l10.8 17.1l1 0.3l-11.1 -17.5z"/><path fill="#ff0014" stroke="#ff0014" stroke-width="0.5" d="M530.4 40.8l10.6 16.8l1 0.2l-10.8 -17.1z"/><path fill="#ff0012" stroke="#ff0012" stroke-width="0.5" d="M529.7 41l10.4 16.3l0.9 0.3l-10.6 -16.8z"/><path fill="#ff0011" stroke="#ff0011" stroke-width="0.5" d="M529 41.1l10.1 16l1 0.2l-10.4 -16.3z"/><path fill="#ff0010" stroke="#ff0010" stroke-width="0.5" d="M528.2 41.2l9.9 15.7l1 0.2l-10.1 -16z"/><path fill="#ff000f" stroke="#ff000f" stroke-width="0.5" d="M527.5 41.4l9.7 15.2l0.9 0.3l-9.9 -15.7z"/><path fill="#ff000e" stroke="#ff000e" stroke-width="0.5" d="M526.8 41.5l9.4 14.9l1 0.2l-9.7 -15.2z"/><path fill="#ff000d" stroke="#ff000d" stroke-width="0.5" d="M526 41.7l9.2 14.5l1 0.2l-9.4 -14.9z"/><path fill="#ff000c" stroke="#ff000c" stroke-width="0.5" d="M525.3 41.8l8.9 14.2l1 0.2l-9.2 -14.5z"/><path fill="#ff000b" stroke="#ff000b" stroke-width="0.5" d="M524.5 42l8.8 13.8l0.9 0.2l-8.9 -14.2z"/><path fill="#ff000a" stroke="#ff000a" stroke-width="0.5" d="M523.8 42.2l8.5 13.3l1 0.3l-8.8 -13.8z"/><path fill="#ff0009" stroke="#ff0009" stroke-width="0.5" d="M523.1 42.3l8.2 13l1 0.2l-8.5 -13.3zM522.3 42.5l8.1 12.6l0.9 0.2l-8.2 -13z"/><path fill="#ff0008" stroke="#ff0008" stroke-width="0.5" d="M521.6 42.7l7.8 12.2l1 0.2l-8.1 -12.6zM520.9 42.9l7.5 11.9l1 0.1l-7.8 -12.2z"/><path fill="#ff0007" stroke="#ff0007" stroke-width="0.5" d="M520.1 43l7.3 11.6l1 0.2l-7.5 -11.9zM519.4 43.2l7.1 11.2l0.9 0.2l-7.3 -11.6z"/><path fill="#ff0006" stroke="#ff0006" stroke-width="0.5" d="M518.7 43.4l6.8 10.8l1 0.2l-7.1 -11.2zM517.9 43.6l6.6 10.4l1 0.2l-6.8 -10.8z"/><path fill="#ff0005" stroke="#ff0005" stroke-width="0.5" d="M517.2 43.8l6.4 10l0.9 0.2l-6.6 -10.4zM516.5 44l6.1 9.6l1 0.2l-6.4 -10zM515.7 44.2l5.9 9.3l1 0.1l-6.1 -9.6z"/><path fill="#ff0004" stroke="#ff0004" stroke-width="0.5" d="M515 44.4l5.7 8.9l0.9 0.2l-5.9 -9.3zM514.3 44.5l5.4 8.6l1 0.2l-5.7 -8.9zM513.5 44.7l5.2 8.2l1 0.2l-5.4 -8.6z"/><path fill="#ff0003" stroke="#ff0003" stroke-width="0.5" d="M512.8 44.9l4.9 7.8l1 0.2l-5.2 -8.2zM512 45.1l4.8 7.5l0.9 0.1l-4.9 -7.8zM511.3 45.3l4.5 7.1l1 0.2l-4.8 -7.5zM510.6 45.5l4.2 6.7l1 0.2l-4.5 -7.1zM509.8 45.7l4.1 6.4l0.9 0.1l-4.2 -6.7z"/><path fill="#ff0002" stroke="#ff0002" stroke-width="0.5" d="M509.1 45.9l3.8 6l1 0.2l-4.1 -6.4zM508.4 46.1l3.5 5.6l1 0.2l-3.8 -6zM507.6 46.4l3.3 5.2l1 0.1l-3.5 -5.6zM506.9 46.6l3.1 4.8l0.9 0.2l-3.3 -5.2zM506.2 46.8l2.8 4.4l1 0.2l-3.1 -4.8zM505.4 47l2.6 4.1l1 0.1l-2.8 -4.4zM504.7 47.2l2.4 3.7l0.9 0.2l-2.6 -4.1z"/><path fill="#ff0001" stroke="#ff0001" stroke-width="0.5" d="M504 47.4l2.1 3.3l1 0.2l-2.4 -3.7zM503.2 47.6l1.9 3l1 0.1l-2.1 -3.3zM502.5 47.8l1.6 2.6l1 0.2l-1.9 -3zM501.8 48l1.4 2.2l0.9 0.2l-1.6 -2.6zM501 48.2l1.2 1.9l1 0.1l-1.4 -2.2zM500.3 48.4l0.9 1.5l1 0.2l-1.2 -1.9zM499.6 48.6l0.7 1.1l0.9 0.2l-0.9 -1.5zM498.8 48.8l0.5 0.8l1 0.1l-0.7 -1.1zM498.1 49.1l0.2 0.3l1 0.2l-0.5 -0.8zM497.3 49.3l0 0l1 0.1l-0.2 -0.3z"/><line x1="31.4" y1="139.4" x2="31.3" y2="48.3" stroke="#4d4d4d" stroke-width="0.5"/><line x1="31.4" y1="139.4" x2="108.6" y2="167.4" stroke="#4d4d4d" stroke-width="0.5"/><line x1="108.6" y1="167.4" x2="206.8" y2="146" stroke="#4d4d4d" stroke-width="0.5"/><line x1="31.4" y1="139.4" x2="29.8" y2="138.8" stroke="#4d4d4d" stroke-width="0.5"/><text transform="matrix(0.88 0 0 1 26.8 141.5)" font-size="7" text-anchor="end" fill="#1a1a1a">-20</text><line x1="31.4" y1="121.2" x2="29.8" y2="120.6" stroke="#4d4d4d" stroke-width="0.5"/><text transform="matrix(0.88 0 0 1 26.8 123.3)" font-size="7" text-anchor="end" fill="#1a1a1a">-10</text><line x1="31.3" y1="103" x2="29.7" y2="102.4" stroke="#4d4d4d" stroke-width="0.5"/><text transform="matrix(0.88 0 0 1 26.7 105.1)" font-size="7" text-anchor="end" fill="#1a1a1a">0</text><line x1="31.3" y1="84.8" x2="29.7" y2="84.2" stroke="#4d4d4d" stroke-width="0.5"/><text transform="matrix(0.88 0 0 1 26.7 86.9)" font-size="7" text-anchor="end" fill="#1a1a1a">10</text><line x1="31.3" y1="66.6" x2="29.7" y2="66" stroke="#4d4d4d" stroke-width="0.5"/><text transform="matrix(0.88 0 0 1 26.7 68.7)" font-size="7" text-anchor="end" fill="#1a1a1a">20</text><line x1="31.3" y1="48.3" x2="29.7" y2="47.7" stroke="#4d4d4d" stroke-width="0.5"/><text transform="matrix(0.88 0 0 1 26.7 50.4)" font-size="7" text-anchor="end" fill="#1a1a1a">30</text><line x1="31.4" y1="139.4" x2="29.4" y2="139.9" stroke="#4d4d4d" stroke-width="0.5"/><text transform="matrix(0.88 0 0 1 24.5 147.5)" font-size="7" text-anchor="middle" fill="#1a1a1a">4</text><line x1="50.7" y1="146.4" x2="48.7" y2="146.8" stroke="#4d4d4d" stroke-width="0.5"/><text transform="matrix(0.88 0 0 1 43.8 154.5)" font-size="7" text-anchor="middle" fill="#1a1a1a">2</text><line x1="70" y1="153.4" x2="68" y2="153.8" stroke="#4d4d4d" stroke-width="0.5"/><text transform="matrix(0.88 0 0 1 63.1 161.5)" font-size="7" text-anchor="middle" fill="#1a1a1a">0</text><line x1="89.3" y1="160.4" x2="87.3" y2="160.8" stroke="#4d4d4d" stroke-width="0.5"/><text transform="matrix(0.88 0 0 1 82.4 168.5)" font-size="7" text-anchor="middle" fill="#1a1a1a">-2</text><line x1="108.6" y1="167.4" x2="106.7" y2="167.8" stroke="#4d4d4d" stroke-width="0.5"/><text transform="matrix(0.88 0 0 1 101.7 175.5)" font-size="7" text-anchor="middle" fill="#1a1a1a">-4</text><line x1="108.6" y1="167.4" x2="110.2" y2="167.9" stroke="#4d4d4d" stroke-width="0.5"/><text transform="matrix(0.88 0 0 1 115.1 175.7)" font-size="7" text-anchor="middle" fill="#1a1a1a">-4</text><line x1="133.1" y1="162" x2="134.7" y2="162.6" stroke="#4d4d4d" stroke-width="0.5"/><text transform="matrix(0.88 0 0 1 139.6 170.3)" font-size="7" text-anchor="middle" fill="#1a1a1a">-2</text><line x1="157.7" y1="156.7" x2="159.2" y2="157.2" stroke="#4d4d4d" stroke-width="0.5"/><text transform="matrix(0.88 0 0 1 164.2 165)" font-size="7" text-anchor="middle" fill="#1a1a1a">0</text><line x1="182.2" y1="151.3" x2="183.8" y2="151.9" stroke="#4d4d4d" stroke-width="0.5"/><text transform="matrix(0.88 0 0 1 188.7 159.6)" font-size="7" text-anchor="middle" fill="#1a1a1a">2</text><line x1="206.8" y1="146" x2="208.3" y2="146.6" stroke="#4d4d4d" stroke-width="0.5"/><text transform="matrix(0.88 0 0 1 213.3 154.3)" font-size="7" text-anchor="middle" fill="#1a1a1a">4</text><line x1="268.5" y1="143.7" x2="268.7" y2="44.9" stroke="#4d4d4d" stroke-width="0.5"/><line x1="268.5" y1="143.7" x2="344.6" y2="167.8" stroke="#4d4d4d" stroke-width="0.5"/><line x1="344.6" y1="167.8" x2="441.5" y2="149.6" stroke="#4d4d4d" stroke-width="0.5"/><line x1="268.5" y1="143.7" x2="266.9" y2="143.1" stroke="#4d4d4d" stroke-width="0.5"/><text transform="matrix(0.88 0 0 1 263.9 145.8)" font-size="7" text-anchor="end" fill="#1a1a1a">-150</text><line x1="268.5" y1="119" x2="266.9" y2="118.4" stroke="#4d4d4d" stroke-width="0.5"/><text transform="matrix(0.88 0 0 1 263.9 121.1)" font-size="7" text-anchor="end" fill="#1a1a1a">-100</text><line x1="268.6" y1="94.3" x2="267" y2="93.7" stroke="#4d4d4d" stroke-width="0.5"/><text transform="matrix(0.88 0 0 1 264 96.4)" font-size="7" text-anchor="end" fill="#1a1a1a">-50</text><line x1="268.7" y1="69.6" x2="267.1" y2="69" stroke="#4d4d4d" stroke-width="0.5"/><text transform="matrix(0.88 0 0 1 264.1 71.7)" font-size="7" text-anchor="end" fill="#1a1a1a">0</text><line x1="268.7" y1="44.9" x2="267.1" y2="44.3" stroke="#4d4d4d" stroke-width="0.5"/><text transform="matrix(0.88 0 0 1 264.1 47)" font-size="7" text-anchor="end" fill="#1a1a1a">50</text><line x1="268.5" y1="143.7" x2="266.5" y2="144.1" stroke="#4d4d4d" stroke-width="0.5"/><text transform="matrix(0.88 0 0 1 261.6 151.8)" font-size="7" text-anchor="middle" fill="#1a1a1a">4</text><line x1="287.5" y1="149.8" x2="285.6" y2="150.1" stroke="#4d4d4d" stroke-width="0.5"/><text transform="matrix(0.88 0 0 1 280.6 157.9)" font-size="7" text-anchor="middle" fill="#1a1a1a">2</text><line x1="306.6" y1="155.8" x2="304.6" y2="156.1" stroke="#4d4d4d" stroke-width="0.5"/><text transform="matrix(0.88 0 0 1 299.7 163.9)" font-size="7" text-anchor="middle" fill="#1a1a1a">0</text><line x1="325.6" y1="161.8" x2="323.7" y2="162.2" stroke="#4d4d4d" stroke-width="0.5"/><text transform="matrix(0.88 0 0 1 318.7 169.9)" font-size="7" text-anchor="middle" fill="#1a1a1a">-2</text><line x1="344.6" y1="167.8" x2="342.7" y2="168.2" stroke="#4d4d4d" stroke-width="0.5"/><text transform="matrix(0.88 0 0 1 337.7 175.9)" font-size="7" text-anchor="middle" fill="#1a1a1a">-4</text><line x1="344.6" y1="167.8" x2="346.2" y2="168.3" stroke="#4d4d4d" stroke-width="0.5"/><text transform="matrix(0.88 0 0 1 351.1 176.1)" font-size="7" text-anchor="middle" fill="#1a1a1a">-4</text><line x1="368.8" y1="163.3" x2="370.4" y2="163.7" stroke="#4d4d4d" stroke-width="0.5"/><text transform="matrix(0.88 0 0 1 375.3 171.6)" font-size="7" text-anchor="middle" fill="#1a1a1a">-2</text><line x1="393" y1="158.7" x2="394.6" y2="159.2" stroke="#4d4d4d" stroke-width="0.5"/><text transform="matrix(0.88 0 0 1 399.5 167)" font-size="7" text-anchor="middle" fill="#1a1a1a">0</text><line x1="417.3" y1="154.1" x2="418.8" y2="154.6" stroke="#4d4d4d" stroke-width="0.5"/><text transform="matrix(0.88 0 0 1 423.8 162.4)" font-size="7" text-anchor="middle" fill="#1a1a1a">2</text><line x1="441.5" y1="149.6" x2="443" y2="150.1" stroke="#4d4d4d" stroke-width="0.5"/><text transform="matrix(0.88 0 0 1 448 157.9)" font-size="7" text-anchor="middle" fill="#1a1a1a">4</text><line x1="497.6" y1="151.1" x2="497.3" y2="49.2" stroke="#4d4d4d" stroke-width="0.5"/><line x1="497.6" y1="151.1" x2="599.5" y2="167.7" stroke="#4d4d4d" stroke-width="0.5"/><line x1="599.5" y1="167.7" x2="676.6" y2="145.2" stroke="#4d4d4d" stroke-width="0.5"/><line x1="497.6" y1="151.1" x2="496" y2="150.5" stroke="#4d4d4d" stroke-width="0.5"/><text transform="matrix(0.88 0 0 1 493 153.2)" font-size="7" text-anchor="end" fill="#1a1a1a">-1</text><line x1="497.6" y1="134.1" x2="496" y2="133.5" stroke="#4d4d4d" stroke-width="0.5"/><text transform="matrix(0.88 0 0 1 493 136.2)" font-size="7" text-anchor="end" fill="#1a1a1a">0</text><line x1="497.5" y1="117.1" x2="495.9" y2="116.5" stroke="#4d4d4d" stroke-width="0.5"/><text transform="matrix(0.88 0 0 1 492.9 119.2)" font-size="7" text-anchor="end" fill="#1a1a1a">1</text><line x1="497.5" y1="100.2" x2="495.9" y2="99.6" stroke="#4d4d4d" stroke-width="0.5"/><text transform="matrix(0.88 0 0 1 492.9 102.3)" font-size="7" text-anchor="end" fill="#1a1a1a">2</text><line x1="497.4" y1="83.2" x2="495.8" y2="82.6" stroke="#4d4d4d" stroke-width="0.5"/><text transform="matrix(0.88 0 0 1 492.8 85.3)" font-size="7" text-anchor="end" fill="#1a1a1a">3</text><line x1="497.4" y1="66.2" x2="495.8" y2="65.6" stroke="#4d4d4d" stroke-width="0.5"/><text transform="matrix(0.88 0 0 1 492.8 68.3)" font-size="7" text-anchor="end" fill="#1a1a1a">4</text><line x1="497.3" y1="49.2" x2="495.7" y2="48.6" stroke="#4d4d4d" stroke-width="0.5"/><text transform="matrix(0.88 0 0 1 492.7 51.3)" font-size="7" text-anchor="end" fill="#1a1a1a">5</text><line x1="497.6" y1="151.1" x2="496.1" y2="151.6" stroke="#4d4d4d" stroke-width="0.5"/><text transform="matrix(0.88 0 0 1 491.1 159.6)" font-size="7" text-anchor="middle" fill="#1a1a1a">-4</text><line x1="523.1" y1="155.3" x2="521.5" y2="155.7" stroke="#4d4d4d" stroke-width="0.5"/><text transform="matrix(0.88 0 0 1 516.6 163.8)" font-size="7" text-anchor="middle" fill="#1a1a1a">-2</text><line x1="548.5" y1="159.4" x2="547" y2="159.8" stroke="#4d4d4d" stroke-width="0.5"/><text transform="matrix(0.88 0 0 1 542 167.9)" font-size="7" text-anchor="middle" fill="#1a1a1a">0</text><line x1="574" y1="163.5" x2="572.4" y2="164" stroke="#4d4d4d" stroke-width="0.5"/><text transform="matrix(0.88 0 0 1 567.5 172)" font-size="7" text-anchor="middle" fill="#1a1a1a">2</text><line x1="599.5" y1="167.7" x2="597.9" y2="168.1" stroke="#4d4d4d" stroke-width="0.5"/><text transform="matrix(0.88 0 0 1 593 176.2)" font-size="7" text-anchor="middle" fill="#1a1a1a">4</text><line x1="599.5" y1="167.7" x2="601.5" y2="168" stroke="#4d4d4d" stroke-width="0.5"/><text transform="matrix(0.88 0 0 1 606.1 175.5)" font-size="7" text-anchor="middle" fill="#1a1a1a">-4</text><line x1="618.7" y1="162.1" x2="620.8" y2="162.4" stroke="#4d4d4d" stroke-width="0.5"/><text transform="matrix(0.88 0 0 1 625.3 169.9)" font-size="7" text-anchor="middle" fill="#1a1a1a">-2</text><line x1="638" y1="156.4" x2="640" y2="156.8" stroke="#4d4d4d" stroke-width="0.5"/><text transform="matrix(0.88 0 0 1 644.6 164.2)" font-size="7" text-anchor="middle" fill="#1a1a1a">0</text><line x1="657.3" y1="150.8" x2="659.3" y2="151.2" stroke="#4d4d4d" stroke-width="0.5"/><text transform="matrix(0.88 0 0 1 663.9 158.6)" font-size="7" text-anchor="middle" fill="#1a1a1a">2</text><line x1="676.6" y1="145.2" x2="678.6" y2="145.5" stroke="#4d4d4d" stroke-width="0.5"/><text transform="matrix(0.88 0 0 1 683.2 153)" font-size="7" text-anchor="middle" fill="#1a1a1a">4</text><text font-size="12.2" fill="#262626" transform="translate(9.6 113.6) scale(0.88 1) rotate(-90)">U<tspan font-size="8.6" dy="3.4">73</tspan><tspan dy="-3.4">(x,t)</tspan></text><text x="150.3" y="185.3" font-size="11.5" text-anchor="middle" font-weight="normal" fill="#262626">x</text><text x="73.5" y="182.8" font-size="11.5" text-anchor="middle" font-weight="normal" fill="#262626">t</text><text font-size="12.2" fill="#262626" transform="translate(244.6 113.6) scale(0.88 1) rotate(-90)">U<tspan font-size="8.6" dy="3.4">73</tspan><tspan dy="-3.4">(x,t)</tspan></text><text x="385.3" y="186.4" font-size="11.5" text-anchor="middle" font-weight="normal" fill="#262626">x</text><text x="309.8" y="184" font-size="11.5" text-anchor="middle" font-weight="normal" fill="#262626">t</text><text font-size="12.2" fill="#262626" transform="translate(479.3 120.1) scale(0.88 1) rotate(-90)">U<tspan font-size="8.6" dy="3.4">73</tspan><tspan dy="-3.4">(x,t)</tspan></text><text x="556.5" y="187.1" font-size="11.5" text-anchor="middle" font-weight="normal" fill="#262626">x</text><text x="634.3" y="185.2" font-size="11.5" text-anchor="middle" font-weight="normal" fill="#262626">t</text><text x="126.3" y="9.4" font-size="11.5" font-weight="bold" fill="#111" stroke="#111" stroke-width="0.25" text-anchor="middle">(a<tspan font-size="8.3" dy="5.3">1</tspan><tspan dy="-5.3">)</tspan></text><text x="362.4" y="9.4" font-size="11.5" font-weight="bold" fill="#111" stroke="#111" stroke-width="0.25" text-anchor="middle">(b<tspan font-size="8.3" dy="5.3">1</tspan><tspan dy="-5.3">)</tspan></text><text x="598.9" y="9.4" font-size="11.5" font-weight="bold" fill="#111" stroke="#111" stroke-width="0.25" text-anchor="middle">(c<tspan font-size="8.3" dy="5.3">1</tspan><tspan dy="-5.3">)</tspan></text><text x="112.5" y="219.6" font-size="11.5" font-weight="bold" fill="#111" stroke="#111" stroke-width="0.25" text-anchor="middle">(a<tspan font-size="8.3" dy="5.3">2</tspan><tspan dy="-5.3">)</tspan></text><text x="347.8" y="219.6" font-size="11.5" font-weight="bold" fill="#111" stroke="#111" stroke-width="0.25" text-anchor="middle">(b<tspan font-size="8.3" dy="5.3">2</tspan><tspan dy="-5.3">)</tspan></text><text x="587.9" y="219.6" font-size="11.5" font-weight="bold" fill="#111" stroke="#111" stroke-width="0.25" text-anchor="middle">(c<tspan font-size="8.3" dy="5.3">2</tspan><tspan dy="-5.3">)</tspan></text><rect x="27.2" y="229.1" width="179.1" height="136.9" fill="#58ff00"/><path fill="#00ff50" d="M27.2 342.2 37.9 341.6 50.8 340.9 61.1 340 68.8 339.1 74 337.6 80 334.5 85.6 331.6 93.3 330.3 96 330 103.2 323 108.4 315.8 112.5 306.5 120.8 305.5 125.9 312.7 131.1 319.9 140.3 328.1 156.8 337.4 177.4 346.7 193.9 351.8 206.3 356 206.3 366 27.2 366z"/><path fill="none" stroke="#0a0a0a" stroke-width="0.65" stroke-linejoin="round" d="M27.2 342.2 37.9 341.6 50.8 340.9 61.1 340 68.8 339.1 74 337.6 80 334.5 85.6 331.6 93.3 330.3 96 330 103.2 323 108.4 315.8 112.5 306.5 120.8 305.5 125.9 312.7 131.1 319.9 140.3 328.1 156.8 337.4 177.4 346.7 193.9 351.8 206.3 356"/><path fill="#00e5ff" d="M27.2 357.4 32.7 354.8 37.9 352.9 43 350.3 50.8 347.7 58.5 343.8 63.7 342.9 68.8 342.2 76 338.8 82 335.5 88 334 95 334.2 103.2 334.3 108.4 336.4 110.5 343.6 111.5 353.9 112.1 366 27.2 366z"/><path fill="none" stroke="#0a0a0a" stroke-width="0.65" stroke-linejoin="round" d="M27.2 357.4 32.7 354.8 37.9 352.9 43 350.3 50.8 347.7 58.5 343.8 63.7 342.9 68.8 342.2 76 338.8 82 335.5 88 334 95 334.2 103.2 334.3 108.4 336.4 110.5 343.6 111.5 353.9 112.1 366"/><path fill="#ffd700" stroke="#0a0a0a" stroke-width="0.65" stroke-linejoin="round" d="M61.1 330.3 63.3 329 71.2 325.5 82.6 319.9 89.6 319.9 93.5 321.5 93.1 323.7 90.5 328.1 87.4 330.3 79.9 332 74.7 335.5 73.4 338 69.4 337.7 61.1 336.9z"/><path fill="#ff2a00" stroke="#0a0a0a" stroke-width="0.65" stroke-linejoin="round" d="M69 337.3 73.8 331.2 75.1 332.5 74.7 336.9z"/><path fill="#ff2a00" stroke="#0a0a0a" stroke-width="0.65" stroke-linejoin="round" d="M75.5 329.8 83.4 326.3 86.5 329.8 80.8 330.3z"/><path fill="#0030ff" stroke="#0a0a0a" stroke-width="0.65" stroke-linejoin="round" d="M64.1 344.8 65 348.3 73.8 350.5 83.4 349.1 88.7 344.3 92.2 338.6 91.3 336.9 84.3 335.1 79.9 336.4 76.4 340.4 73.8 343 66.8 343.4z"/><path fill="#a000ff" stroke="#0a0a0a" stroke-width="0.65" stroke-linejoin="round" d="M81.2 336.9 84.3 336 89.1 338.2 83.4 343 82.1 339.9z"/><path fill="#ff00c0" stroke="#0a0a0a" stroke-width="0.3" stroke-linejoin="round" d="M83 337 85.3 336.8 84.8 338.6z"/><path fill="#a000ff" stroke="#0a0a0a" stroke-width="0.65" stroke-linejoin="round" d="M72 344.8 75.5 343.9 78.6 344.3 74.7 346.1z"/><rect x="27.2" y="229.1" width="179.1" height="136.9" fill="none" stroke="#4a4a4a" stroke-width="0.6"/><path stroke="#4a4a4a" stroke-width="0.5" d="M27.2 366v-2.2M27.2 229.1v2.2M27.2 229.1h2.2M206.3 229.1h-2.2M49.6 366v-2.2M49.6 229.1v2.2M27.2 246.2h2.2M206.3 246.2h-2.2M72 366v-2.2M72 229.1v2.2M27.2 263.3h2.2M206.3 263.3h-2.2M94.4 366v-2.2M94.4 229.1v2.2M27.2 280.4h2.2M206.3 280.4h-2.2M116.8 366v-2.2M116.8 229.1v2.2M27.2 297.6h2.2M206.3 297.6h-2.2M139.1 366v-2.2M139.1 229.1v2.2M27.2 314.7h2.2M206.3 314.7h-2.2M161.5 366v-2.2M161.5 229.1v2.2M27.2 331.8h2.2M206.3 331.8h-2.2M183.9 366v-2.2M183.9 229.1v2.2M27.2 348.9h2.2M206.3 348.9h-2.2M206.3 366v-2.2M206.3 229.1v2.2M27.2 366h2.2M206.3 366h-2.2"/><text transform="matrix(0.88 0 0 1 27.2 374.8)" font-size="7" text-anchor="middle" fill="#1a1a1a">-4</text><text transform="matrix(0.88 0 0 1 24.9 368.5)" font-size="7" text-anchor="end" fill="#1a1a1a">-4</text><text transform="matrix(0.88 0 0 1 49.6 374.8)" font-size="7" text-anchor="middle" fill="#1a1a1a">-3</text><text transform="matrix(0.88 0 0 1 24.9 351.4)" font-size="7" text-anchor="end" fill="#1a1a1a">-3</text><text transform="matrix(0.88 0 0 1 72 374.8)" font-size="7" text-anchor="middle" fill="#1a1a1a">-2</text><text transform="matrix(0.88 0 0 1 24.9 334.3)" font-size="7" text-anchor="end" fill="#1a1a1a">-2</text><text transform="matrix(0.88 0 0 1 94.4 374.8)" font-size="7" text-anchor="middle" fill="#1a1a1a">-1</text><text transform="matrix(0.88 0 0 1 24.9 317.2)" font-size="7" text-anchor="end" fill="#1a1a1a">-1</text><text transform="matrix(0.88 0 0 1 116.8 374.8)" font-size="7" text-anchor="middle" fill="#1a1a1a">0</text><text transform="matrix(0.88 0 0 1 24.9 300.1)" font-size="7" text-anchor="end" fill="#1a1a1a">0</text><text transform="matrix(0.88 0 0 1 139.1 374.8)" font-size="7" text-anchor="middle" fill="#1a1a1a">1</text><text transform="matrix(0.88 0 0 1 24.9 282.9)" font-size="7" text-anchor="end" fill="#1a1a1a">1</text><text transform="matrix(0.88 0 0 1 161.5 374.8)" font-size="7" text-anchor="middle" fill="#1a1a1a">2</text><text transform="matrix(0.88 0 0 1 24.9 265.8)" font-size="7" text-anchor="end" fill="#1a1a1a">2</text><text transform="matrix(0.88 0 0 1 183.9 374.8)" font-size="7" text-anchor="middle" fill="#1a1a1a">3</text><text transform="matrix(0.88 0 0 1 24.9 248.7)" font-size="7" text-anchor="end" fill="#1a1a1a">3</text><text transform="matrix(0.88 0 0 1 206.3 374.8)" font-size="7" text-anchor="middle" fill="#1a1a1a">4</text><text transform="matrix(0.88 0 0 1 24.9 231.6)" font-size="7" text-anchor="end" fill="#1a1a1a">4</text><text x="116.8" y="388.5" font-size="11.5" text-anchor="middle" fill="#262626">x</text><text x="16.2" y="297.6" font-size="11.5" text-anchor="middle" fill="#262626" transform="rotate(-90 16.2 297.6)">t</text><rect x="262.4" y="229.3" width="179.1" height="136.7" fill="#ff00d6"/><path fill="#ff0000" d="M262.4 275.1 271.7 276.3 272.4 279.2 274.6 280.7 281.6 285.5 289.2 282.4 302.3 281.4 315.5 279.9 347.2 268.7 356.5 281.7 366.8 293 377.1 301.3 391.6 310.5 408.1 319.8 426.6 329.1 441.5 335.3 441.5 366 262.4 366z"/><path fill="none" stroke="#0a0a0a" stroke-width="0.65" stroke-linejoin="round" d="M262.4 275.1 271.7 276.3 272.4 279.2 274.6 280.7 281.6 285.5 289.2 282.4 302.3 281.4 315.5 279.9 347.2 268.7 356.5 281.7 366.8 293 377.1 301.3 391.6 310.5 408.1 319.8 426.6 329.1 441.5 335.3"/><path fill="#1c1c8c" stroke="#1a1a40" stroke-width="0.35" stroke-linejoin="round" d="M273.9 279.6 281.7 273.2 289.5 279.6 281.7 286z"/><path fill="#0024e0" stroke="#1a1a40" stroke-width="0.35" stroke-linejoin="round" d="M275.2 279.6 281.7 274.3 288.2 279.6 281.7 284.9z"/><path fill="#0090b0" stroke="#1a1a40" stroke-width="0.35" stroke-linejoin="round" d="M276.5 279.6 281.7 275.3 286.9 279.6 281.7 283.9z"/><path fill="#10a040" stroke="#1a1a40" stroke-width="0.35" stroke-linejoin="round" d="M277.8 279.6 281.7 276.4 285.6 279.6 281.7 282.8z"/><path fill="#50a010" stroke="#1a1a40" stroke-width="0.35" stroke-linejoin="round" d="M279.1 279.6 281.7 277.5 284.3 279.6 281.7 281.7z"/><path fill="#a02000" stroke="#1a1a40" stroke-width="0.35" stroke-linejoin="round" d="M280.4 279.6 281.7 278.5 283 279.6 281.7 280.7z"/><rect x="262.4" y="229.3" width="179.1" height="136.7" fill="none" stroke="#4a4a4a" stroke-width="0.6"/><path stroke="#4a4a4a" stroke-width="0.5" d="M262.4 366v-2.2M262.4 229.3v2.2M262.4 229.3h2.2M441.5 229.3h-2.2M284.8 366v-2.2M284.8 229.3v2.2M262.4 246.4h2.2M441.5 246.4h-2.2M307.2 366v-2.2M307.2 229.3v2.2M262.4 263.5h2.2M441.5 263.5h-2.2M329.6 366v-2.2M329.6 229.3v2.2M262.4 280.6h2.2M441.5 280.6h-2.2M351.9 366v-2.2M351.9 229.3v2.2M262.4 297.6h2.2M441.5 297.6h-2.2M374.3 366v-2.2M374.3 229.3v2.2M262.4 314.7h2.2M441.5 314.7h-2.2M396.7 366v-2.2M396.7 229.3v2.2M262.4 331.8h2.2M441.5 331.8h-2.2M419.1 366v-2.2M419.1 229.3v2.2M262.4 348.9h2.2M441.5 348.9h-2.2M441.5 366v-2.2M441.5 229.3v2.2M262.4 366h2.2M441.5 366h-2.2"/><text transform="matrix(0.88 0 0 1 262.4 374.8)" font-size="7" text-anchor="middle" fill="#1a1a1a">-4</text><text transform="matrix(0.88 0 0 1 260.1 368.5)" font-size="7" text-anchor="end" fill="#1a1a1a">-4</text><text transform="matrix(0.88 0 0 1 284.8 374.8)" font-size="7" text-anchor="middle" fill="#1a1a1a">-3</text><text transform="matrix(0.88 0 0 1 260.1 351.4)" font-size="7" text-anchor="end" fill="#1a1a1a">-3</text><text transform="matrix(0.88 0 0 1 307.2 374.8)" font-size="7" text-anchor="middle" fill="#1a1a1a">-2</text><text transform="matrix(0.88 0 0 1 260.1 334.3)" font-size="7" text-anchor="end" fill="#1a1a1a">-2</text><text transform="matrix(0.88 0 0 1 329.6 374.8)" font-size="7" text-anchor="middle" fill="#1a1a1a">-1</text><text transform="matrix(0.88 0 0 1 260.1 317.2)" font-size="7" text-anchor="end" fill="#1a1a1a">-1</text><text transform="matrix(0.88 0 0 1 351.9 374.8)" font-size="7" text-anchor="middle" fill="#1a1a1a">0</text><text transform="matrix(0.88 0 0 1 260.1 300.1)" font-size="7" text-anchor="end" fill="#1a1a1a">0</text><text transform="matrix(0.88 0 0 1 374.3 374.8)" font-size="7" text-anchor="middle" fill="#1a1a1a">1</text><text transform="matrix(0.88 0 0 1 260.1 283.1)" font-size="7" text-anchor="end" fill="#1a1a1a">1</text><text transform="matrix(0.88 0 0 1 396.7 374.8)" font-size="7" text-anchor="middle" fill="#1a1a1a">2</text><text transform="matrix(0.88 0 0 1 260.1 266)" font-size="7" text-anchor="end" fill="#1a1a1a">2</text><text transform="matrix(0.88 0 0 1 419.1 374.8)" font-size="7" text-anchor="middle" fill="#1a1a1a">3</text><text transform="matrix(0.88 0 0 1 260.1 248.9)" font-size="7" text-anchor="end" fill="#1a1a1a">3</text><text transform="matrix(0.88 0 0 1 441.5 374.8)" font-size="7" text-anchor="middle" fill="#1a1a1a">4</text><text transform="matrix(0.88 0 0 1 260.1 231.8)" font-size="7" text-anchor="end" fill="#1a1a1a">4</text><text x="351.9" y="388.5" font-size="11.5" text-anchor="middle" fill="#262626">x</text><text x="251.4" y="297.6" font-size="11.5" text-anchor="middle" fill="#262626" transform="rotate(-90 251.4 297.6)">t</text><path fill="#ff0000" d="M498.3 366 623.2 366 498.3 270.5z"/><path fill="#ff008f" d="M623.2 366 640.7 366 498.3 257.2 498.3 270.5z"/><path fill="#df00ff" d="M640.7 366 651.8 366 498.3 248.6 498.3 257.2z"/><path fill="#5c00ff" d="M651.8 366 661 366 498.3 241.6 498.3 248.6z"/><path fill="#0029ff" d="M661 366 667.7 366 498.3 236.5 498.3 241.6z"/><path fill="#00ff28" d="M677.1 359.2 677.1 354 513.9 229.3 507.2 229.3z"/><path fill="#68ff00" d="M677.1 354 677.1 347 523.1 229.3 513.9 229.3z"/><path fill="#e8ff00" d="M677.1 347 677.1 338.5 534.3 229.3 523.1 229.3z"/><path fill="#ff8f00" d="M677.1 338.5 677.1 325.2 551.7 229.3 534.3 229.3z"/><path fill="#ff0000" d="M677.1 325.2 677.1 229.3 551.7 229.3z"/><path fill="none" stroke="#0a0a0a" stroke-width="0.65" stroke-linejoin="round" d="M498.3 270.5 623.2 366"/><path fill="none" stroke="#0a0a0a" stroke-width="0.65" stroke-linejoin="round" d="M498.3 257.2 640.7 366"/><path fill="none" stroke="#0a0a0a" stroke-width="0.65" stroke-linejoin="round" d="M498.3 248.6 651.8 366"/><path fill="none" stroke="#0a0a0a" stroke-width="0.65" stroke-linejoin="round" d="M498.3 241.6 661 366"/><path fill="none" stroke="#0a0a0a" stroke-width="0.65" stroke-linejoin="round" d="M513.9 229.3 677.1 354"/><path fill="none" stroke="#0a0a0a" stroke-width="0.65" stroke-linejoin="round" d="M523.1 229.3 677.1 347"/><path fill="none" stroke="#0a0a0a" stroke-width="0.65" stroke-linejoin="round" d="M534.3 229.3 677.1 338.5"/><path fill="none" stroke="#0a0a0a" stroke-width="0.65" stroke-linejoin="round" d="M551.7 229.3 677.1 325.2"/><rect x="498.3" y="229.3" width="178.8" height="136.7" fill="none" stroke="#4a4a4a" stroke-width="0.6"/><path stroke="#4a4a4a" stroke-width="0.5" d="M498.3 366v-2.2M498.3 229.3v2.2M498.3 229.3h2.2M677.1 229.3h-2.2M520.6 366v-2.2M520.6 229.3v2.2M498.3 246.4h2.2M677.1 246.4h-2.2M543 366v-2.2M543 229.3v2.2M498.3 263.5h2.2M677.1 263.5h-2.2M565.4 366v-2.2M565.4 229.3v2.2M498.3 280.6h2.2M677.1 280.6h-2.2M587.7 366v-2.2M587.7 229.3v2.2M498.3 297.6h2.2M677.1 297.6h-2.2M610 366v-2.2M610 229.3v2.2M498.3 314.7h2.2M677.1 314.7h-2.2M632.4 366v-2.2M632.4 229.3v2.2M498.3 331.8h2.2M677.1 331.8h-2.2M654.8 366v-2.2M654.8 229.3v2.2M498.3 348.9h2.2M677.1 348.9h-2.2M677.1 366v-2.2M677.1 229.3v2.2M498.3 366h2.2M677.1 366h-2.2"/><text transform="matrix(0.88 0 0 1 498.3 374.8)" font-size="7" text-anchor="middle" fill="#1a1a1a">-4</text><text transform="matrix(0.88 0 0 1 496 368.5)" font-size="7" text-anchor="end" fill="#1a1a1a">-4</text><text transform="matrix(0.88 0 0 1 520.6 374.8)" font-size="7" text-anchor="middle" fill="#1a1a1a">-3</text><text transform="matrix(0.88 0 0 1 496 351.4)" font-size="7" text-anchor="end" fill="#1a1a1a">-3</text><text transform="matrix(0.88 0 0 1 543 374.8)" font-size="7" text-anchor="middle" fill="#1a1a1a">-2</text><text transform="matrix(0.88 0 0 1 496 334.3)" font-size="7" text-anchor="end" fill="#1a1a1a">-2</text><text transform="matrix(0.88 0 0 1 565.4 374.8)" font-size="7" text-anchor="middle" fill="#1a1a1a">-1</text><text transform="matrix(0.88 0 0 1 496 317.2)" font-size="7" text-anchor="end" fill="#1a1a1a">-1</text><text transform="matrix(0.88 0 0 1 587.7 374.8)" font-size="7" text-anchor="middle" fill="#1a1a1a">0</text><text transform="matrix(0.88 0 0 1 496 300.1)" font-size="7" text-anchor="end" fill="#1a1a1a">0</text><text transform="matrix(0.88 0 0 1 610 374.8)" font-size="7" text-anchor="middle" fill="#1a1a1a">1</text><text transform="matrix(0.88 0 0 1 496 283.1)" font-size="7" text-anchor="end" fill="#1a1a1a">1</text><text transform="matrix(0.88 0 0 1 632.4 374.8)" font-size="7" text-anchor="middle" fill="#1a1a1a">2</text><text transform="matrix(0.88 0 0 1 496 266)" font-size="7" text-anchor="end" fill="#1a1a1a">2</text><text transform="matrix(0.88 0 0 1 654.8 374.8)" font-size="7" text-anchor="middle" fill="#1a1a1a">3</text><text transform="matrix(0.88 0 0 1 496 248.9)" font-size="7" text-anchor="end" fill="#1a1a1a">3</text><text transform="matrix(0.88 0 0 1 677.1 374.8)" font-size="7" text-anchor="middle" fill="#1a1a1a">4</text><text transform="matrix(0.88 0 0 1 496 231.8)" font-size="7" text-anchor="end" fill="#1a1a1a">4</text><text x="587.7" y="388.5" font-size="11.5" text-anchor="middle" fill="#262626">x</text><text x="487.3" y="297.6" font-size="11.5" text-anchor="middle" fill="#262626" transform="rotate(-90 487.3 297.6)">t</text></svg></body></html>
